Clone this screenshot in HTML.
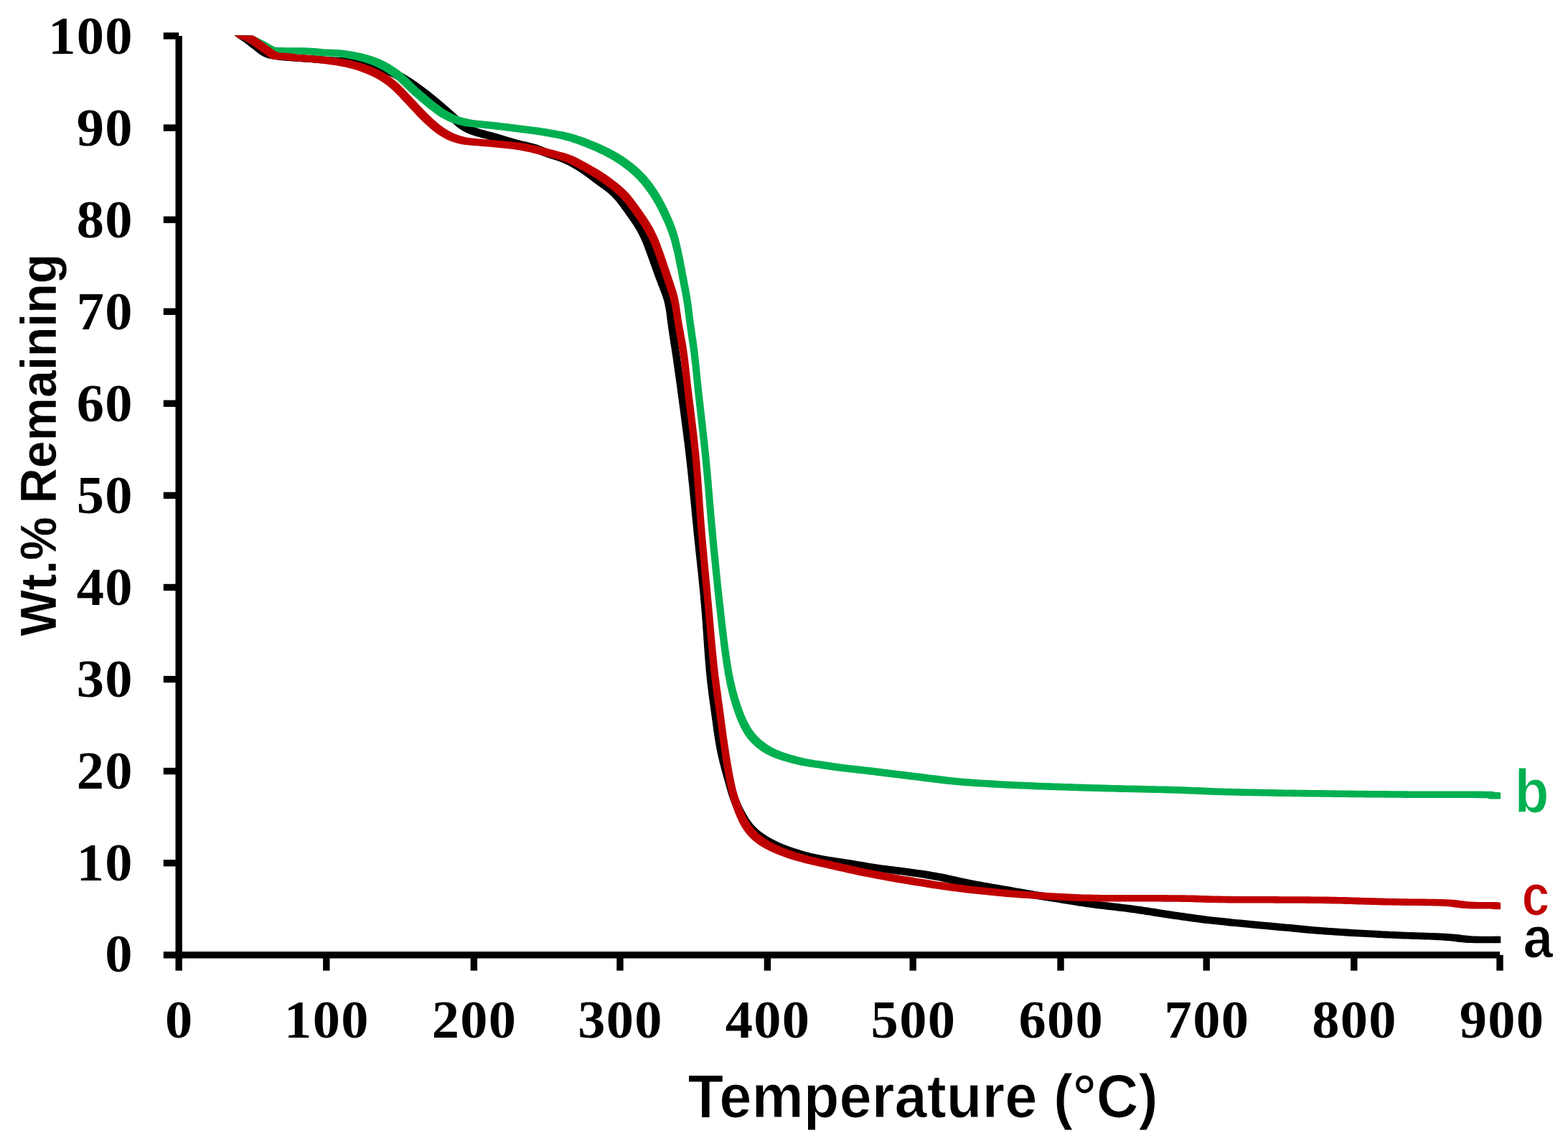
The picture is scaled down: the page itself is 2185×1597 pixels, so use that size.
<!DOCTYPE html>
<html lang="en"><head><meta charset="utf-8"><title>TGA: Wt.% Remaining vs Temperature</title>
<style>
html,body{margin:0;padding:0;background:#fff;}
body{width:2185px;height:1597px;overflow:hidden;}
svg{display:block;}
</style></head>
<body>
<svg width="2185" height="1597" viewBox="0 0 2185 1597">
<defs><clipPath id="plot"><rect x="240" y="49.6" width="1900" height="1290"/></clipPath></defs>
<rect width="2185" height="1597" fill="#fff"/>
<g clip-path="url(#plot)" stroke="none">
<g fill="#000"><path d="M327.1,49.6 336.6,42.1 340.7,44.9 344.8,47.7 349.0,50.5 352.9,53.6 356.8,56.7 360.9,59.6 364.8,62.7 368.8,65.8 372.9,68.6 377.3,71.1 381.9,72.7 386.9,73.8 391.8,74.6 396.7,75.2 401.7,75.7 406.7,76.2 411.7,76.5 416.7,76.8 421.7,77.2 426.6,77.5 431.6,77.8 436.6,78.2 441.6,78.6 446.6,79.0 451.6,79.3 456.6,79.7 461.6,80.0 466.5,80.4 471.5,80.7 476.5,80.9 481.5,81.2 486.5,81.5 491.5,81.8 496.5,82.1 501.5,82.6 506.4,83.1 511.3,83.9 516.2,85.0 521.0,86.2 525.8,87.6 530.6,89.1 535.4,90.7 540.1,92.5 544.7,94.3 549.3,96.3 553.8,98.4 558.2,100.7 562.6,103.1 566.9,105.7 571.1,108.3 575.3,111.0 579.5,113.8 583.6,116.7 587.6,119.7 591.6,122.7 595.6,125.7 599.6,128.8 603.5,131.8 607.4,135.0 611.2,138.2 615.1,141.4 618.9,144.6 622.7,147.9 626.4,151.2 630.2,154.5 633.9,157.9 637.6,161.2 641.3,164.6 645.1,167.8 649.0,170.9 653.1,173.6 657.4,176.0 661.9,178.0 666.6,179.7 671.4,181.2 676.2,182.6 681.0,183.8 685.9,185.1 690.7,186.4 695.5,187.8 700.3,189.2 705.1,190.7 709.9,192.1 714.7,193.6 719.5,194.9 724.3,196.2 729.2,197.4 734.0,198.5 738.9,199.7 743.8,200.9 748.5,202.3 753.2,203.9 757.8,205.8 762.4,207.7 767.0,209.5 771.7,211.1 776.5,212.7 781.3,214.2 786.0,215.7 790.6,217.5 795.2,219.4 799.7,221.6 804.1,223.9 808.5,226.4 812.8,229.0 817.0,231.7 821.1,234.5 825.2,237.4 829.2,240.4 833.2,243.4 837.2,246.4 841.2,249.4 845.3,252.3 849.4,255.3 853.4,258.3 857.2,261.4 860.9,264.7 864.3,268.3 867.6,272.0 870.7,275.9 873.7,279.9 876.6,284.0 879.6,288.0 882.5,292.1 885.4,296.2 888.3,300.3 891.1,304.4 893.8,308.6 896.3,312.9 898.8,317.3 901.0,321.7 903.1,326.2 905.1,330.8 907.0,335.4 908.7,340.1 910.5,344.8 912.1,349.5 913.8,354.2 915.5,358.9 917.2,363.7 918.9,368.4 920.6,373.1 922.3,377.8 924.0,382.5 925.8,387.2 927.6,391.8 929.4,396.5 931.2,401.2 932.9,405.9 934.4,410.7 935.6,415.4 936.6,420.3 937.5,425.2 938.2,430.1 938.8,435.1 939.4,440.1 940.1,445.0 940.7,450.0 941.5,455.0 942.2,459.9 943.0,464.8 943.7,469.8 944.5,474.7 945.3,479.7 946.0,484.6 946.8,489.5 947.5,494.5 948.2,499.4 948.9,504.4 949.6,509.3 950.3,514.3 951.0,519.2 951.7,524.2 952.4,529.2 953.1,534.1 953.7,539.1 954.4,544.0 955.1,549.0 955.7,553.9 956.4,558.9 957.1,563.8 957.7,568.8 958.4,573.8 959.0,578.7 959.7,583.7 960.3,588.6 961.0,593.6 961.6,598.5 962.2,603.5 962.9,608.5 963.5,613.4 964.1,618.4 964.7,623.4 965.2,628.3 965.8,633.3 966.4,638.3 966.9,643.2 967.5,648.2 968.0,653.2 968.5,658.1 969.0,663.1 969.6,668.1 970.1,673.1 970.5,678.0 971.0,683.0 971.5,688.0 972.0,693.0 972.5,697.9 973.0,702.9 973.5,707.9 973.9,712.9 974.4,717.9 974.9,722.8 975.4,727.8 975.9,732.8 976.4,737.8 976.9,742.7 977.4,747.7 978.0,752.7 978.5,757.6 979.0,762.6 979.5,767.6 980.1,772.6 980.6,777.5 981.1,782.5 981.7,787.5 982.2,792.5 982.7,797.4 983.2,802.4 983.7,807.4 984.2,812.4 984.7,817.3 985.2,822.3 985.6,827.3 986.1,832.3 986.5,837.2 986.9,842.2 987.3,847.2 987.7,852.2 988.1,857.2 988.5,862.2 988.8,867.2 989.2,872.1 989.5,877.1 989.8,882.1 990.2,887.1 990.5,892.1 990.9,897.1 991.2,902.1 991.6,907.1 992.0,912.1 992.4,917.0 992.8,922.0 993.2,927.0 993.7,932.0 994.2,936.9 994.7,941.9 995.3,946.9 995.9,951.8 996.5,956.8 997.1,961.8 997.8,966.7 998.5,971.7 999.2,976.6 999.9,981.6 1000.5,986.5 1001.2,991.5 1001.9,996.5 1002.6,1001.4 1003.3,1006.4 1004.0,1011.3 1004.7,1016.3 1005.5,1021.2 1006.2,1026.2 1007.1,1031.1 1008.0,1036.0 1009.0,1040.9 1010.0,1045.7 1011.2,1050.6 1012.3,1055.5 1013.6,1060.3 1014.9,1065.1 1016.2,1070.0 1017.6,1074.8 1018.9,1079.6 1020.3,1084.4 1021.6,1089.3 1023.0,1094.1 1024.4,1098.8 1026.0,1103.6 1027.6,1108.3 1029.4,1113.0 1031.3,1117.6 1033.3,1122.2 1035.5,1126.7 1037.7,1131.1 1040.2,1135.5 1042.8,1139.7 1045.6,1143.9 1048.6,1147.9 1051.8,1151.7 1055.2,1155.2 1059.0,1158.5 1062.9,1161.5 1067.0,1164.3 1071.3,1166.9 1075.6,1169.3 1080.0,1171.7 1084.5,1173.9 1089.1,1175.9 1093.7,1177.9 1098.3,1179.7 1103.0,1181.4 1107.8,1183.0 1112.5,1184.5 1117.3,1186.0 1122.1,1187.4 1126.9,1188.7 1131.8,1189.9 1136.6,1191.0 1141.5,1192.1 1146.4,1193.0 1151.4,1193.9 1156.3,1194.7 1161.2,1195.5 1166.2,1196.2 1171.1,1197.0 1176.1,1197.7 1181.0,1198.5 1185.9,1199.2 1190.9,1200.0 1195.8,1200.9 1200.7,1201.7 1205.7,1202.5 1210.6,1203.3 1215.5,1204.2 1220.5,1204.9 1225.4,1205.7 1230.4,1206.4 1235.3,1207.0 1240.3,1207.7 1245.3,1208.3 1250.2,1208.9 1255.2,1209.5 1260.1,1210.1 1265.1,1210.8 1270.1,1211.4 1275.0,1212.1 1280.0,1212.8 1284.9,1213.5 1289.9,1214.3 1294.8,1215.1 1299.7,1215.9 1304.6,1216.7 1309.6,1217.6 1314.5,1218.6 1319.4,1219.6 1324.3,1220.6 1329.1,1221.7 1334.0,1222.8 1338.9,1223.9 1343.8,1224.9 1348.7,1226.0 1353.6,1227.0 1358.5,1227.9 1363.4,1228.8 1368.3,1229.7 1373.2,1230.6 1378.2,1231.5 1383.1,1232.3 1388.0,1233.2 1393.0,1234.0 1397.9,1234.8 1402.8,1235.7 1407.7,1236.6 1412.7,1237.4 1417.6,1238.3 1422.5,1239.2 1427.4,1240.1 1432.4,1240.9 1437.3,1241.8 1442.2,1242.6 1447.1,1243.5 1452.1,1244.3 1457.0,1245.1 1461.9,1245.9 1466.9,1246.7 1471.8,1247.5 1476.7,1248.3 1481.7,1249.1 1486.6,1249.9 1491.6,1250.7 1496.5,1251.5 1501.4,1252.3 1506.4,1253.1 1511.3,1253.8 1516.3,1254.6 1521.2,1255.3 1526.1,1256.0 1531.1,1256.7 1536.1,1257.4 1541.0,1258.0 1546.0,1258.6 1550.9,1259.2 1555.9,1259.7 1560.9,1260.3 1565.8,1260.9 1570.8,1261.5 1575.8,1262.1 1580.7,1262.7 1585.7,1263.4 1590.6,1264.1 1595.6,1264.8 1600.5,1265.6 1605.5,1266.3 1610.4,1267.1 1615.4,1267.9 1620.3,1268.6 1625.2,1269.4 1630.2,1270.1 1635.1,1270.9 1640.1,1271.6 1645.0,1272.3 1650.0,1273.1 1654.9,1273.8 1659.9,1274.5 1664.8,1275.2 1669.8,1275.9 1674.7,1276.6 1679.7,1277.2 1684.6,1277.8 1689.6,1278.4 1694.6,1279.0 1699.5,1279.5 1704.5,1280.1 1709.5,1280.6 1714.5,1281.1 1719.4,1281.6 1724.4,1282.1 1729.4,1282.6 1734.4,1283.1 1739.3,1283.5 1744.3,1284.0 1749.3,1284.5 1754.3,1284.9 1759.3,1285.4 1764.2,1285.8 1769.2,1286.3 1774.2,1286.7 1779.2,1287.2 1784.2,1287.6 1789.1,1288.1 1794.1,1288.6 1799.1,1289.1 1804.1,1289.6 1809.0,1290.1 1814.0,1290.6 1819.0,1291.1 1824.0,1291.5 1828.9,1292.0 1833.9,1292.4 1838.9,1292.8 1843.9,1293.2 1848.9,1293.5 1853.9,1293.9 1858.9,1294.2 1863.8,1294.6 1868.8,1294.9 1873.8,1295.2 1878.8,1295.5 1883.8,1295.8 1888.8,1296.1 1893.8,1296.4 1898.8,1296.7 1903.8,1297.0 1908.8,1297.2 1913.8,1297.5 1918.8,1297.8 1923.7,1298.0 1928.7,1298.3 1933.7,1298.6 1938.7,1298.8 1943.7,1299.1 1948.7,1299.3 1953.7,1299.5 1958.8,1299.7 1963.8,1299.9 1968.8,1300.0 1973.9,1300.2 1978.9,1300.3 1983.9,1300.5 1988.9,1300.7 1994.0,1300.8 1999.0,1301.0 2004.0,1301.2 2009.0,1301.4 2014.0,1301.7 2018.9,1302.0 2023.9,1302.3 2028.8,1302.8 2033.7,1303.3 2038.6,1303.9 2043.5,1304.5 2048.3,1305.0 2053.2,1305.4 2058.1,1305.6 2063.1,1305.6 2068.0,1305.7 2073.0,1305.7 2078.0,1305.7 2083.1,1305.7 2088.2,1305.7 2091.3,1305.7 2081.8,1313.3 2078.7,1313.3 2073.6,1313.3 2068.5,1313.3 2063.5,1313.3 2058.5,1313.3 2053.6,1313.2 2048.6,1313.2 2043.7,1313.0 2038.8,1312.6 2034.0,1312.1 2029.1,1311.5 2024.2,1310.9 2019.3,1310.4 2014.4,1309.9 2009.4,1309.6 2004.5,1309.3 1999.5,1309.0 1994.5,1308.8 1989.5,1308.6 1984.5,1308.4 1979.4,1308.3 1974.4,1308.1 1969.4,1307.9 1964.4,1307.8 1959.3,1307.6 1954.3,1307.5 1949.3,1307.3 1944.2,1307.1 1939.2,1306.9 1934.2,1306.7 1929.2,1306.4 1924.2,1306.2 1919.2,1305.9 1914.2,1305.6 1909.3,1305.4 1904.3,1305.1 1899.3,1304.8 1894.3,1304.6 1889.3,1304.3 1884.3,1304.0 1879.3,1303.7 1874.3,1303.4 1869.3,1303.1 1864.3,1302.8 1859.3,1302.5 1854.3,1302.2 1849.4,1301.8 1844.4,1301.5 1839.4,1301.1 1834.4,1300.8 1829.4,1300.4 1824.4,1300.0 1819.4,1299.6 1814.5,1299.1 1809.5,1298.7 1804.5,1298.2 1799.5,1297.7 1794.6,1297.2 1789.6,1296.7 1784.6,1296.2 1779.6,1295.7 1774.7,1295.2 1769.7,1294.8 1764.7,1294.3 1759.7,1293.9 1754.7,1293.4 1749.8,1293.0 1744.8,1292.5 1739.8,1292.1 1734.8,1291.6 1729.8,1291.1 1724.9,1290.7 1719.9,1290.2 1714.9,1289.7 1709.9,1289.2 1705.0,1288.7 1700.0,1288.2 1695.0,1287.7 1690.0,1287.1 1685.1,1286.6 1680.1,1286.0 1675.1,1285.4 1670.2,1284.8 1665.2,1284.2 1660.3,1283.5 1655.3,1282.8 1650.4,1282.1 1645.4,1281.4 1640.5,1280.7 1635.5,1279.9 1630.6,1279.2 1625.6,1278.5 1620.7,1277.7 1615.7,1277.0 1610.8,1276.2 1605.9,1275.5 1600.9,1274.7 1596.0,1273.9 1591.0,1273.2 1586.1,1272.4 1581.1,1271.7 1576.2,1271.0 1571.2,1270.3 1566.3,1269.7 1561.3,1269.1 1556.3,1268.5 1551.4,1267.9 1546.4,1267.3 1541.4,1266.8 1536.5,1266.2 1531.5,1265.6 1526.6,1265.0 1521.6,1264.3 1516.6,1263.6 1511.7,1262.9 1506.8,1262.2 1501.8,1261.4 1496.9,1260.7 1491.9,1259.9 1487.0,1259.1 1482.1,1258.3 1477.1,1257.5 1472.2,1256.7 1467.2,1255.9 1462.3,1255.1 1457.4,1254.3 1452.4,1253.5 1447.5,1252.7 1442.6,1251.9 1437.6,1251.1 1432.7,1250.2 1427.8,1249.4 1422.9,1248.5 1417.9,1247.7 1413.0,1246.8 1408.1,1245.9 1403.2,1245.0 1398.2,1244.2 1393.3,1243.3 1388.4,1242.4 1383.5,1241.6 1378.5,1240.8 1373.6,1239.9 1368.7,1239.1 1363.7,1238.2 1358.8,1237.3 1353.9,1236.4 1349.0,1235.5 1344.1,1234.6 1339.2,1233.6 1334.3,1232.5 1329.4,1231.5 1324.5,1230.4 1319.6,1229.3 1314.8,1228.2 1309.9,1227.2 1305.0,1226.2 1300.1,1225.2 1295.1,1224.3 1290.2,1223.5 1285.3,1222.7 1280.4,1221.9 1275.4,1221.1 1270.5,1220.4 1265.5,1219.7 1260.6,1219.0 1255.6,1218.4 1250.6,1217.7 1245.7,1217.1 1240.7,1216.5 1235.8,1215.9 1230.8,1215.3 1225.8,1214.6 1220.9,1214.0 1215.9,1213.3 1211.0,1212.5 1206.0,1211.8 1201.1,1210.9 1196.2,1210.1 1191.2,1209.3 1186.3,1208.5 1181.4,1207.6 1176.4,1206.8 1171.5,1206.1 1166.6,1205.3 1161.6,1204.6 1156.7,1203.8 1151.7,1203.1 1146.8,1202.3 1141.9,1201.5 1136.9,1200.6 1132.0,1199.7 1127.1,1198.6 1122.3,1197.5 1117.4,1196.3 1112.6,1195.0 1107.8,1193.6 1103.0,1192.1 1098.3,1190.6 1093.5,1189.0 1088.8,1187.3 1084.2,1185.5 1079.6,1183.5 1075.0,1181.5 1070.5,1179.3 1066.1,1176.9 1061.8,1174.5 1057.5,1171.9 1053.4,1169.1 1049.5,1166.1 1045.7,1162.8 1042.3,1159.3 1039.1,1155.5 1036.1,1151.5 1033.3,1147.3 1030.7,1143.1 1028.2,1138.7 1026.0,1134.3 1023.8,1129.8 1021.8,1125.2 1019.9,1120.6 1018.1,1115.9 1016.5,1111.2 1014.9,1106.4 1013.5,1101.7 1012.1,1096.9 1010.8,1092.0 1009.4,1087.2 1008.1,1082.4 1006.7,1077.6 1005.4,1072.7 1004.1,1067.9 1002.8,1063.1 1001.7,1058.2 1000.5,1053.3 999.5,1048.5 998.5,1043.6 997.6,1038.7 996.7,1033.8 996.0,1028.8 995.2,1023.9 994.5,1018.9 993.8,1014.0 993.1,1009.0 992.4,1004.1 991.7,999.1 991.0,994.1 990.4,989.2 989.7,984.2 989.0,979.3 988.3,974.3 987.6,969.4 987.0,964.4 986.4,959.4 985.8,954.5 985.2,949.5 984.7,944.5 984.2,939.6 983.7,934.6 983.3,929.6 982.9,924.6 982.5,919.7 982.1,914.7 981.7,909.7 981.4,904.7 981.0,899.7 980.7,894.7 980.3,889.7 980.0,884.7 979.7,879.7 979.3,874.8 979.0,869.8 978.6,864.8 978.2,859.8 977.8,854.8 977.4,849.8 977.0,844.8 976.6,839.9 976.1,834.9 975.7,829.9 975.2,824.9 974.7,820.0 974.2,815.0 973.7,810.0 973.2,805.0 972.7,800.1 972.2,795.1 971.6,790.1 971.1,785.1 970.6,780.2 970.0,775.2 969.5,770.2 969.0,765.2 968.5,760.3 967.9,755.3 967.4,750.3 966.9,745.4 966.4,740.4 965.9,735.4 965.4,730.4 964.9,725.5 964.4,720.5 964.0,715.5 963.5,710.5 963.0,705.5 962.5,700.6 962.0,695.6 961.5,690.6 961.0,685.6 960.6,680.7 960.1,675.7 959.5,670.7 959.0,665.7 958.5,660.8 958.0,655.8 957.4,650.8 956.9,645.9 956.3,640.9 955.7,635.9 955.2,631.0 954.6,626.0 954.0,621.0 953.4,616.1 952.7,611.1 952.1,606.1 951.5,601.2 950.8,596.2 950.2,591.3 949.5,586.3 948.9,581.4 948.2,576.4 947.6,571.4 946.9,566.5 946.2,561.5 945.6,556.6 944.9,551.6 944.2,546.7 943.6,541.7 942.9,536.8 942.2,531.8 941.5,526.8 940.8,521.9 940.1,516.9 939.4,512.0 938.7,507.0 938.0,502.1 937.3,497.1 936.5,492.2 935.8,487.3 935.0,482.3 934.2,477.4 933.5,472.4 932.7,467.5 932.0,462.6 931.2,457.6 930.6,452.6 929.9,447.7 929.3,442.7 928.7,437.7 928.0,432.8 927.1,427.9 926.1,423.0 924.9,418.3 923.4,413.5 921.7,408.8 919.9,404.1 918.1,399.4 916.3,394.8 914.5,390.1 912.8,385.4 911.1,380.7 909.4,376.0 907.7,371.3 906.0,366.5 904.3,361.8 902.6,357.1 901.0,352.4 899.2,347.7 897.5,343.0 895.6,338.4 893.6,333.8 891.5,329.3 889.3,324.9 886.8,320.5 884.3,316.2 881.6,312.0 878.8,307.9 875.9,303.8 873.0,299.7 870.1,295.6 867.1,291.6 864.2,287.5 861.2,283.5 858.1,279.6 854.8,275.9 851.4,272.3 847.7,269.0 843.9,265.9 839.9,262.9 835.8,259.9 831.7,257.0 827.7,254.0 823.7,251.0 819.7,248.0 815.7,245.0 811.6,242.1 807.5,239.3 803.3,236.6 799.0,234.0 794.6,231.5 790.2,229.2 785.7,227.0 781.1,225.1 776.5,223.3 771.8,221.8 767.0,220.3 762.2,218.7 757.5,217.1 752.9,215.3 748.3,213.4 743.7,211.5 739.0,209.9 734.3,208.5 729.4,207.3 724.5,206.1 719.7,205.0 714.8,203.8 710.0,202.5 705.2,201.2 700.4,199.7 695.6,198.3 690.8,196.8 686.0,195.4 681.2,194.0 676.4,192.7 671.5,191.4 666.7,190.2 661.9,188.8 657.1,187.3 652.4,185.6 647.9,183.6 643.6,181.2 639.5,178.5 635.6,175.4 631.8,172.2 628.1,168.8 624.4,165.5 620.7,162.1 616.9,158.8 613.2,155.5 609.4,152.2 605.6,149.0 601.7,145.8 597.9,142.6 594.0,139.4 590.1,136.4 586.1,133.3 582.1,130.3 578.1,127.3 574.1,124.3 570.0,121.4 565.8,118.6 561.6,115.9 557.4,113.3 553.1,110.7 548.7,108.3 544.3,106.0 539.8,103.9 535.2,101.9 530.6,100.1 525.9,98.3 521.1,96.7 516.3,95.2 511.5,93.8 506.7,92.6 501.8,91.5 496.9,90.7 492.0,90.2 487.0,89.7 482.0,89.4 477.0,89.1 472.0,88.8 467.0,88.5 462.0,88.3 457.0,88.0 452.1,87.6 447.1,87.3 442.1,86.9 437.1,86.6 432.1,86.2 427.1,85.8 422.1,85.4 417.1,85.1 412.2,84.8 407.2,84.4 402.2,84.1 397.2,83.8 392.2,83.3 387.2,82.8 382.3,82.2 377.4,81.4 372.4,80.3 367.8,78.7 363.4,76.2 359.3,73.4 355.3,70.3 351.4,67.2 347.3,64.3 343.4,61.2 339.5,58.1 335.3,55.3 331.2,52.5 327.1,49.6Z"/><path d="M328.1,50.6 335.7,41.1 339.8,43.9 343.9,46.8 348.1,49.5 352.0,52.6 355.9,55.7 360.0,58.6 363.8,61.8 367.8,64.9 371.9,67.7 376.3,70.1 381.0,71.7 385.9,72.8 390.8,73.6 395.8,74.3 400.8,74.8 405.7,75.2 410.7,75.6 415.7,75.9 420.7,76.2 425.7,76.5 430.7,76.9 435.7,77.2 440.7,77.6 445.6,78.0 450.6,78.4 455.6,78.8 460.6,79.1 465.6,79.4 470.6,79.7 475.6,80.0 480.6,80.3 485.6,80.5 490.6,80.8 495.6,81.2 500.5,81.6 505.5,82.2 510.4,83.0 515.2,84.0 520.1,85.3 524.9,86.7 529.7,88.2 534.4,89.8 539.1,91.5 543.8,93.4 548.3,95.4 552.8,97.5 557.3,99.8 561.6,102.2 566.0,104.7 570.2,107.4 574.4,110.1 578.5,112.9 582.6,115.8 586.7,118.7 590.7,121.7 594.7,124.7 598.6,127.8 602.5,130.9 606.4,134.0 610.3,137.2 614.1,140.4 617.9,143.7 621.7,146.9 625.5,150.2 629.2,153.5 632.9,156.9 636.6,160.3 640.3,163.6 644.1,166.9 648.1,169.9 652.2,172.7 656.5,175.0 661.0,177.1 665.6,178.8 670.4,180.3 675.2,181.6 680.1,182.9 684.9,184.1 689.7,185.5 694.5,186.8 699.3,188.3 704.1,189.7 708.9,191.2 713.7,192.6 718.5,194.0 723.3,195.3 728.2,196.5 733.1,197.6 738.0,198.7 742.8,199.9 747.6,201.3 752.2,203.0 756.8,204.8 761.4,206.7 766.1,208.5 770.8,210.2 775.5,211.7 780.3,213.2 785.0,214.8 789.7,216.5 794.3,218.5 798.8,220.6 803.2,222.9 807.5,225.4 811.8,228.0 816.0,230.7 820.1,233.6 824.2,236.5 828.2,239.4 832.2,242.4 836.3,245.4 840.3,248.4 844.4,251.4 848.4,254.3 852.4,257.3 856.3,260.5 859.9,263.8 863.4,267.3 866.6,271.1 869.7,275.0 872.7,279.0 875.7,283.0 878.6,287.1 881.6,291.1 884.5,295.2 887.3,299.3 890.1,303.5 892.8,307.7 895.4,311.9 897.8,316.3 900.1,320.8 902.2,325.3 904.2,329.9 906.0,334.5 907.8,339.2 909.5,343.9 911.2,348.6 912.9,353.3 914.6,358.0 916.2,362.7 917.9,367.4 919.6,372.1 921.3,376.8 923.0,381.5 924.8,386.2 926.6,390.9 928.5,395.6 930.3,400.3 931.9,405.0 933.4,409.7 934.7,414.5 935.7,419.3 936.5,424.2 937.2,429.2 937.9,434.1 938.5,439.1 939.1,444.1 939.8,449.0 940.5,454.0 941.3,458.9 942.0,463.9 942.8,468.8 943.6,473.8 944.3,478.7 945.1,483.7 945.8,488.6 946.6,493.5 947.3,498.5 948.0,503.4 948.7,508.4 949.4,513.3 950.1,518.3 950.8,523.2 951.4,528.2 952.1,533.2 952.8,538.1 953.5,543.1 954.1,548.0 954.8,553.0 955.5,557.9 956.1,562.9 956.8,567.8 957.4,572.8 958.1,577.8 958.7,582.7 959.4,587.7 960.0,592.6 960.7,597.6 961.3,602.6 961.9,607.5 962.5,612.5 963.1,617.4 963.7,622.4 964.3,627.4 964.9,632.3 965.4,637.3 966.0,642.3 966.5,647.2 967.1,652.2 967.6,657.2 968.1,662.2 968.6,667.1 969.1,672.1 969.6,677.1 970.1,682.1 970.6,687.0 971.1,692.0 971.5,697.0 972.0,702.0 972.5,706.9 973.0,711.9 973.5,716.9 974.0,721.9 974.5,726.9 975.0,731.8 975.5,736.8 976.0,741.8 976.5,746.8 977.0,751.7 977.5,756.7 978.1,761.7 978.6,766.6 979.1,771.6 979.7,776.6 980.2,781.6 980.7,786.5 981.2,791.5 981.7,796.5 982.3,801.5 982.8,806.4 983.3,811.4 983.7,816.4 984.2,821.4 984.7,826.3 985.1,831.3 985.6,836.3 986.0,841.3 986.4,846.3 986.8,851.2 987.2,856.2 987.5,861.2 987.9,866.2 988.2,871.2 988.6,876.2 988.9,881.2 989.2,886.2 989.6,891.2 989.9,896.1 990.3,901.1 990.7,906.1 991.0,911.1 991.4,916.1 991.8,921.1 992.3,926.0 992.7,931.0 993.2,936.0 993.8,941.0 994.3,945.9 994.9,950.9 995.5,955.9 996.2,960.8 996.9,965.8 997.5,970.7 998.2,975.7 998.9,980.6 999.6,985.6 1000.3,990.5 1001.0,995.5 1001.6,1000.5 1002.3,1005.4 1003.0,1010.4 1003.7,1015.3 1004.5,1020.3 1005.3,1025.2 1006.1,1030.1 1007.1,1035.0 1008.0,1039.9 1009.1,1044.8 1010.2,1049.7 1011.4,1054.5 1012.6,1059.4 1013.9,1064.2 1015.3,1069.0 1016.6,1073.8 1018.0,1078.7 1019.3,1083.5 1020.7,1088.3 1022.1,1093.1 1023.5,1097.9 1025.0,1102.6 1026.7,1107.4 1028.5,1112.0 1030.3,1116.7 1032.4,1121.2 1034.5,1125.7 1036.8,1130.2 1039.2,1134.5 1041.8,1138.8 1044.6,1142.9 1047.6,1146.9 1050.8,1150.7 1054.3,1154.3 1058.0,1157.5 1062.0,1160.5 1066.1,1163.3 1070.3,1165.9 1074.7,1168.4 1079.1,1170.7 1083.6,1172.9 1088.1,1175.0 1092.7,1176.9 1097.4,1178.7 1102.1,1180.4 1106.8,1182.0 1111.6,1183.6 1116.4,1185.0 1121.2,1186.4 1126.0,1187.7 1130.8,1189.0 1135.7,1190.1 1140.6,1191.1 1145.5,1192.1 1150.4,1193.0 1155.3,1193.8 1160.3,1194.5 1165.2,1195.3 1170.2,1196.0 1175.1,1196.8 1180.1,1197.5 1185.0,1198.3 1189.9,1199.1 1194.9,1199.9 1199.8,1200.7 1204.7,1201.6 1209.7,1202.4 1214.6,1203.2 1219.5,1204.0 1224.5,1204.7 1229.4,1205.4 1234.4,1206.1 1239.3,1206.7 1244.3,1207.3 1249.3,1207.9 1254.2,1208.5 1259.2,1209.2 1264.1,1209.8 1269.1,1210.5 1274.1,1211.2 1279.0,1211.9 1284.0,1212.6 1288.9,1213.3 1293.8,1214.1 1298.8,1214.9 1303.7,1215.8 1308.6,1216.7 1313.5,1217.6 1318.4,1218.6 1323.3,1219.7 1328.2,1220.7 1333.1,1221.8 1338.0,1222.9 1342.8,1224.0 1347.7,1225.0 1352.6,1226.0 1357.5,1227.0 1362.5,1227.9 1367.4,1228.8 1372.3,1229.7 1377.2,1230.5 1382.1,1231.4 1387.1,1232.2 1392.0,1233.1 1396.9,1233.9 1401.9,1234.8 1406.8,1235.6 1411.7,1236.5 1416.6,1237.4 1421.6,1238.2 1426.5,1239.1 1431.4,1240.0 1436.3,1240.8 1441.3,1241.7 1446.2,1242.5 1451.1,1243.3 1456.1,1244.2 1461.0,1245.0 1465.9,1245.7 1470.9,1246.5 1475.8,1247.3 1480.7,1248.1 1485.7,1248.9 1490.6,1249.7 1495.5,1250.5 1500.5,1251.3 1505.4,1252.1 1510.4,1252.9 1515.3,1253.6 1520.2,1254.4 1525.2,1255.1 1530.1,1255.8 1535.1,1256.4 1540.1,1257.0 1545.0,1257.6 1550.0,1258.2 1555.0,1258.8 1559.9,1259.3 1564.9,1259.9 1569.9,1260.5 1574.8,1261.1 1579.8,1261.8 1584.7,1262.4 1589.7,1263.1 1594.6,1263.9 1599.6,1264.6 1604.5,1265.4 1609.5,1266.1 1614.4,1266.9 1619.3,1267.7 1624.3,1268.4 1629.2,1269.2 1634.2,1269.9 1639.1,1270.7 1644.1,1271.4 1649.0,1272.1 1654.0,1272.9 1658.9,1273.6 1663.9,1274.3 1668.8,1275.0 1673.8,1275.6 1678.7,1276.2 1683.7,1276.9 1688.7,1277.4 1693.6,1278.0 1698.6,1278.6 1703.6,1279.1 1708.5,1279.6 1713.5,1280.1 1718.5,1280.7 1723.5,1281.2 1728.4,1281.6 1733.4,1282.1 1738.4,1282.6 1743.4,1283.1 1748.3,1283.5 1753.3,1284.0 1758.3,1284.4 1763.3,1284.9 1768.3,1285.3 1773.2,1285.8 1778.2,1286.2 1783.2,1286.7 1788.2,1287.2 1793.2,1287.7 1798.1,1288.1 1803.1,1288.6 1808.1,1289.1 1813.1,1289.6 1818.0,1290.1 1823.0,1290.6 1828.0,1291.0 1833.0,1291.4 1838.0,1291.8 1842.9,1292.2 1847.9,1292.6 1852.9,1292.9 1857.9,1293.3 1862.9,1293.6 1867.9,1293.9 1872.9,1294.3 1877.9,1294.6 1882.9,1294.9 1887.8,1295.2 1892.8,1295.5 1897.8,1295.7 1902.8,1296.0 1907.8,1296.3 1912.8,1296.6 1917.8,1296.8 1922.8,1297.1 1927.8,1297.4 1932.8,1297.6 1937.8,1297.9 1942.8,1298.1 1947.8,1298.3 1952.8,1298.6 1957.8,1298.8 1962.8,1298.9 1967.9,1299.1 1972.9,1299.2 1977.9,1299.4 1983.0,1299.6 1988.0,1299.7 1993.0,1299.9 1998.0,1300.1 2003.0,1300.3 2008.0,1300.5 2013.0,1300.8 2018.0,1301.0 2022.9,1301.4 2027.9,1301.8 2032.8,1302.3 2037.6,1302.9 2042.5,1303.5 2047.4,1304.0 2052.3,1304.4 2057.2,1304.6 2062.1,1304.7 2067.1,1304.7 2072.1,1304.7 2077.1,1304.7 2082.2,1304.7 2087.3,1304.7 2090.4,1304.7 2082.8,1314.2 2079.7,1314.2 2074.6,1314.2 2069.5,1314.2 2064.5,1314.2 2059.5,1314.2 2054.5,1314.2 2049.6,1314.1 2044.7,1313.9 2039.8,1313.5 2034.9,1313.0 2030.0,1312.4 2025.2,1311.8 2020.3,1311.3 2015.3,1310.9 2010.4,1310.5 2005.4,1310.3 2000.4,1310.0 1995.4,1309.8 1990.4,1309.6 1985.4,1309.4 1980.4,1309.2 1975.4,1309.1 1970.3,1308.9 1965.3,1308.7 1960.3,1308.6 1955.2,1308.4 1950.2,1308.3 1945.2,1308.1 1940.2,1307.8 1935.2,1307.6 1930.2,1307.4 1925.2,1307.1 1920.2,1306.9 1915.2,1306.6 1910.2,1306.3 1905.2,1306.1 1900.2,1305.8 1895.2,1305.5 1890.2,1305.2 1885.2,1305.0 1880.2,1304.7 1875.3,1304.4 1870.3,1304.1 1865.3,1303.8 1860.3,1303.4 1855.3,1303.1 1850.3,1302.8 1845.3,1302.4 1840.3,1302.1 1835.3,1301.7 1830.4,1301.3 1825.4,1300.9 1820.4,1300.5 1815.4,1300.1 1810.4,1299.6 1805.5,1299.1 1800.5,1298.6 1795.5,1298.1 1790.5,1297.6 1785.6,1297.2 1780.6,1296.7 1775.6,1296.2 1770.6,1295.7 1765.6,1295.3 1760.7,1294.8 1755.7,1294.4 1750.7,1293.9 1745.7,1293.5 1740.7,1293.0 1735.8,1292.6 1730.8,1292.1 1725.8,1291.6 1720.8,1291.1 1715.9,1290.7 1710.9,1290.2 1705.9,1289.6 1700.9,1289.1 1696.0,1288.6 1691.0,1288.1 1686.0,1287.5 1681.1,1286.9 1676.1,1286.4 1671.1,1285.7 1666.2,1285.1 1661.2,1284.5 1656.3,1283.8 1651.3,1283.1 1646.4,1282.4 1641.4,1281.6 1636.5,1280.9 1631.5,1280.2 1626.6,1279.4 1621.6,1278.7 1616.7,1277.9 1611.7,1277.2 1606.8,1276.4 1601.9,1275.6 1596.9,1274.9 1592.0,1274.1 1587.0,1273.4 1582.1,1272.6 1577.1,1271.9 1572.2,1271.3 1567.2,1270.6 1562.3,1270.0 1557.3,1269.4 1552.3,1268.8 1547.4,1268.3 1542.4,1267.7 1537.4,1267.1 1532.5,1266.5 1527.5,1265.9 1522.5,1265.3 1517.6,1264.6 1512.6,1263.9 1507.7,1263.1 1502.8,1262.4 1497.8,1261.6 1492.9,1260.8 1487.9,1260.0 1483.0,1259.2 1478.1,1258.4 1473.1,1257.6 1468.2,1256.8 1463.3,1256.0 1458.3,1255.2 1453.4,1254.5 1448.5,1253.7 1443.5,1252.8 1438.6,1252.0 1433.7,1251.2 1428.7,1250.3 1423.8,1249.5 1418.9,1248.6 1414.0,1247.7 1409.0,1246.9 1404.1,1246.0 1399.2,1245.1 1394.3,1244.3 1389.3,1243.4 1384.4,1242.6 1379.5,1241.7 1374.5,1240.9 1369.6,1240.0 1364.7,1239.2 1359.8,1238.3 1354.9,1237.4 1349.9,1236.5 1345.0,1235.5 1340.1,1234.5 1335.2,1233.5 1330.4,1232.4 1325.5,1231.3 1320.6,1230.2 1315.7,1229.2 1310.8,1228.1 1305.9,1227.1 1301.0,1226.2 1296.1,1225.3 1291.2,1224.4 1286.2,1223.6 1281.3,1222.8 1276.4,1222.1 1271.4,1221.4 1266.5,1220.7 1261.5,1220.0 1256.5,1219.3 1251.6,1218.7 1246.6,1218.0 1241.7,1217.4 1236.7,1216.8 1231.7,1216.2 1226.8,1215.6 1221.8,1214.9 1216.9,1214.2 1211.9,1213.5 1207.0,1212.7 1202.1,1211.9 1197.1,1211.1 1192.2,1210.2 1187.3,1209.4 1182.3,1208.6 1177.4,1207.8 1172.5,1207.0 1167.5,1206.3 1162.6,1205.5 1157.6,1204.8 1152.7,1204.0 1147.7,1203.3 1142.8,1202.5 1137.9,1201.6 1133.0,1200.6 1128.1,1199.6 1123.2,1198.5 1118.4,1197.2 1113.6,1195.9 1108.8,1194.5 1104.0,1193.1 1099.2,1191.5 1094.5,1189.9 1089.8,1188.2 1085.1,1186.4 1080.5,1184.5 1076.0,1182.4 1071.5,1180.2 1067.1,1177.9 1062.7,1175.4 1058.5,1172.8 1054.4,1170.0 1050.4,1167.0 1046.7,1163.8 1043.2,1160.2 1040.0,1156.4 1037.0,1152.4 1034.2,1148.3 1031.6,1144.0 1029.2,1139.7 1026.9,1135.2 1024.8,1130.7 1022.7,1126.2 1020.9,1121.5 1019.1,1116.9 1017.4,1112.1 1015.9,1107.4 1014.5,1102.6 1013.1,1097.8 1011.7,1093.0 1010.4,1088.2 1009.0,1083.3 1007.7,1078.5 1006.3,1073.7 1005.0,1068.9 1003.8,1064.0 1002.6,1059.2 1001.5,1054.3 1000.4,1049.4 999.5,1044.5 998.5,1039.6 997.7,1034.7 996.9,1029.8 996.1,1024.8 995.4,1019.9 994.7,1014.9 994.0,1010.0 993.4,1005.0 992.7,1000.0 992.0,995.1 991.3,990.1 990.6,985.2 989.9,980.2 989.3,975.3 988.6,970.3 987.9,965.4 987.3,960.4 986.7,955.4 986.2,950.5 985.6,945.5 985.1,940.5 984.7,935.5 984.2,930.6 983.8,925.6 983.4,920.6 983.1,915.6 982.7,910.6 982.3,905.6 982.0,900.7 981.6,895.7 981.3,890.7 981.0,885.7 980.6,880.7 980.3,875.7 979.9,870.7 979.6,865.7 979.2,860.7 978.8,855.8 978.4,850.8 978.0,845.8 977.5,840.8 977.1,835.8 976.6,830.9 976.1,825.9 975.7,820.9 975.2,815.9 974.7,811.0 974.1,806.0 973.6,801.0 973.1,796.0 972.6,791.1 972.1,786.1 971.5,781.1 971.0,776.1 970.5,771.2 969.9,766.2 969.4,761.2 968.9,756.3 968.4,751.3 967.9,746.3 967.4,741.3 966.9,736.4 966.4,731.4 965.9,726.4 965.4,721.4 964.9,716.4 964.4,711.5 963.9,706.5 963.5,701.5 963.0,696.5 962.5,691.6 962.0,686.6 961.5,681.6 961.0,676.6 960.5,671.7 960.0,666.7 959.5,661.7 958.9,656.7 958.4,651.8 957.8,646.8 957.3,641.8 956.7,636.9 956.1,631.9 955.5,626.9 954.9,622.0 954.3,617.0 953.7,612.1 953.1,607.1 952.4,602.1 951.8,597.2 951.1,592.2 950.5,587.3 949.8,582.3 949.2,577.3 948.5,572.4 947.9,567.4 947.2,562.5 946.5,557.5 945.9,552.6 945.2,547.6 944.5,542.7 943.8,537.7 943.2,532.7 942.5,527.8 941.8,522.8 941.1,517.9 940.4,512.9 939.7,508.0 939.0,503.0 938.2,498.1 937.5,493.2 936.7,488.2 936.0,483.3 935.2,478.3 934.4,473.4 933.7,468.4 932.9,463.5 932.2,458.5 931.5,453.6 930.9,448.6 930.3,443.6 929.6,438.7 928.9,433.7 928.1,428.8 927.1,424.0 925.8,419.2 924.3,414.5 922.7,409.8 920.9,405.1 919.0,400.4 917.2,395.7 915.4,391.0 913.7,386.3 912.0,381.6 910.3,376.9 908.6,372.2 907.0,367.5 905.3,362.8 903.6,358.1 901.9,353.4 900.2,348.7 898.4,344.0 896.6,339.4 894.6,334.8 892.5,330.3 890.2,325.8 887.8,321.4 885.2,317.2 882.5,313.0 879.7,308.8 876.9,304.7 874.0,300.6 871.0,296.6 868.1,292.5 865.1,288.5 862.1,284.5 859.0,280.6 855.8,276.8 852.3,273.3 848.7,270.0 844.8,266.8 840.8,263.8 836.8,260.9 832.7,257.9 828.7,254.9 824.6,251.9 820.6,248.9 816.6,246.0 812.5,243.1 808.4,240.2 804.2,237.5 799.9,234.9 795.6,232.4 791.2,230.1 786.7,228.0 782.1,226.0 777.4,224.3 772.7,222.7 767.9,221.2 763.2,219.7 758.5,218.0 753.8,216.2 749.2,214.3 744.6,212.5 740.0,210.8 735.2,209.4 730.4,208.2 725.5,207.1 720.6,206.0 715.7,204.8 710.9,203.5 706.1,202.1 701.3,200.7 696.5,199.2 691.7,197.8 686.9,196.3 682.1,195.0 677.3,193.6 672.5,192.4 667.6,191.1 662.8,189.8 658.0,188.3 653.4,186.6 648.9,184.5 644.6,182.2 640.5,179.4 636.5,176.4 632.7,173.1 629.0,169.8 625.3,166.4 621.6,163.0 617.9,159.7 614.1,156.4 610.3,153.2 606.5,149.9 602.7,146.7 598.8,143.5 594.9,140.4 591.0,137.3 587.1,134.2 583.1,131.2 579.1,128.2 575.0,125.3 570.9,122.4 566.8,119.6 562.6,116.9 558.4,114.2 554.0,111.7 549.7,109.3 545.2,107.0 540.7,104.9 536.2,102.9 531.5,101.0 526.8,99.3 522.1,97.7 517.3,96.2 512.5,94.8 507.6,93.5 502.8,92.5 497.9,91.7 492.9,91.1 488.0,90.7 483.0,90.3 478.0,90.0 473.0,89.8 468.0,89.5 463.0,89.2 458.0,88.9 453.0,88.6 448.0,88.3 443.0,87.9 438.0,87.5 433.1,87.1 428.1,86.7 423.1,86.4 418.1,86.0 413.1,85.7 408.1,85.4 403.1,85.1 398.1,84.7 393.2,84.3 388.2,83.8 383.2,83.1 378.3,82.3 373.4,81.2 368.7,79.6 364.3,77.2 360.2,74.4 356.2,71.3 352.4,68.1 348.3,65.2 344.4,62.1 340.5,59.0 336.3,56.3 332.2,53.4 328.1,50.6Z"/><path d="M327.1,42.1 328.1,41.1 335.7,41.1 336.6,42.1 336.6,49.6 335.7,50.6 328.1,50.6 327.1,49.6Z"/><path d="M2081.8,1305.7 2082.8,1304.7 2090.4,1304.7 2091.3,1305.7 2091.3,1313.3 2090.4,1314.2 2082.8,1314.2 2081.8,1313.3Z"/></g>
<g fill="#00b050"><path d="M326.2,49.1 335.8,41.5 340.2,43.7 344.7,46.0 349.2,48.2 353.6,50.4 358.1,52.7 362.6,54.9 367.1,57.2 371.5,59.4 376.0,61.9 380.4,64.8 384.9,66.8 389.7,67.0 394.8,67.0 399.8,67.1 404.9,67.1 410.0,67.2 415.1,67.2 420.2,67.2 425.2,67.2 430.1,67.3 434.9,67.6 439.6,68.0 444.4,68.5 449.1,69.0 454.0,69.4 458.9,69.5 463.9,69.7 469.0,69.9 474.0,70.2 479.0,70.7 484.0,71.3 488.9,72.1 493.8,73.0 498.7,73.9 503.6,75.0 508.5,76.1 513.3,77.4 518.1,78.9 522.8,80.5 527.5,82.2 532.1,84.2 536.6,86.3 541.0,88.7 545.3,91.2 549.5,93.9 553.7,96.7 557.7,99.6 561.5,102.8 565.2,106.1 568.8,109.6 572.4,113.1 576.0,116.6 579.6,120.0 583.2,123.4 587.0,126.7 590.8,130.0 594.6,133.3 598.4,136.5 602.3,139.7 606.2,142.9 610.1,146.0 614.1,149.0 618.2,151.9 622.4,154.6 626.7,157.1 631.1,159.4 635.6,161.4 640.3,163.2 645.0,164.8 649.8,166.0 654.7,167.0 659.6,167.8 664.6,168.5 669.5,169.0 674.5,169.6 679.5,170.1 684.5,170.6 689.5,171.1 694.4,171.6 699.4,172.1 704.4,172.7 709.3,173.3 714.3,173.9 719.3,174.5 724.2,175.1 729.2,175.7 734.2,176.4 739.1,177.0 744.1,177.6 749.0,178.3 754.0,179.0 758.9,179.7 763.9,180.5 768.8,181.4 773.7,182.2 778.6,183.1 783.6,184.0 788.5,185.0 793.3,186.1 798.2,187.4 802.9,188.8 807.7,190.3 812.4,192.0 817.1,193.8 821.7,195.6 826.4,197.4 831.0,199.3 835.6,201.2 840.2,203.3 844.7,205.4 849.2,207.5 853.7,209.8 858.1,212.2 862.4,214.7 866.7,217.3 870.8,220.1 874.9,222.9 879.0,225.9 882.9,229.0 886.8,232.1 890.5,235.4 894.2,238.9 897.7,242.4 901.0,246.1 904.3,249.9 907.4,253.8 910.4,257.8 913.3,261.9 916.0,266.0 918.7,270.3 921.2,274.6 923.7,278.9 926.1,283.3 928.3,287.8 930.5,292.3 932.6,296.8 934.7,301.4 936.7,306.0 938.6,310.6 940.4,315.3 942.0,320.0 943.6,324.7 945.0,329.5 946.2,334.3 947.4,339.2 948.6,344.1 949.7,349.0 950.7,353.9 951.7,358.8 952.7,363.7 953.6,368.6 954.6,373.5 955.5,378.4 956.4,383.3 957.4,388.2 958.3,393.1 959.3,398.0 960.2,403.0 961.1,407.9 961.9,412.8 962.7,417.7 963.4,422.7 964.0,427.6 964.7,432.6 965.3,437.6 965.9,442.5 966.6,447.5 967.3,452.4 968.0,457.4 968.7,462.3 969.4,467.3 970.2,472.2 970.9,477.2 971.5,482.1 972.2,487.1 972.8,492.0 973.3,497.0 973.9,502.0 974.4,507.0 974.9,511.9 975.4,516.9 975.9,521.9 976.4,526.9 976.9,531.8 977.4,536.8 978.0,541.8 978.5,546.8 979.1,551.7 979.6,556.7 980.2,561.7 980.7,566.6 981.3,571.6 981.9,576.6 982.4,581.5 983.0,586.5 983.6,591.5 984.1,596.4 984.7,601.4 985.2,606.4 985.8,611.3 986.3,616.3 986.8,621.3 987.4,626.3 987.9,631.2 988.4,636.2 988.8,641.2 989.3,646.2 989.8,651.1 990.2,656.1 990.7,661.1 991.1,666.1 991.6,671.1 992.0,676.0 992.4,681.0 992.8,686.0 993.3,691.0 993.7,696.0 994.1,701.0 994.5,705.9 995.0,710.9 995.4,715.9 995.8,720.9 996.3,725.9 996.7,730.8 997.2,735.8 997.7,740.8 998.1,745.8 998.6,750.8 999.1,755.7 999.5,760.7 1000.0,765.7 1000.5,770.7 1001.0,775.6 1001.5,780.6 1002.0,785.6 1002.5,790.6 1003.0,795.5 1003.5,800.5 1004.0,805.5 1004.5,810.5 1005.0,815.4 1005.6,820.4 1006.1,825.4 1006.6,830.3 1007.2,835.3 1007.8,840.3 1008.3,845.3 1008.9,850.2 1009.4,855.2 1010.0,860.2 1010.6,865.2 1011.1,870.1 1011.7,875.1 1012.3,880.1 1012.9,885.0 1013.5,890.0 1014.2,895.0 1014.8,899.9 1015.5,904.9 1016.2,909.8 1016.9,914.8 1017.6,919.7 1018.4,924.7 1019.2,929.6 1020.0,934.5 1021.0,939.4 1021.9,944.3 1023.0,949.2 1024.1,954.1 1025.3,958.9 1026.5,963.8 1027.9,968.6 1029.3,973.4 1030.8,978.1 1032.4,982.9 1034.0,987.6 1035.8,992.3 1037.6,996.9 1039.6,1001.5 1041.7,1006.0 1044.1,1010.4 1046.6,1014.7 1049.4,1018.8 1052.4,1022.8 1055.7,1026.5 1059.3,1030.0 1063.0,1033.2 1067.0,1036.3 1071.1,1039.1 1075.3,1041.7 1079.7,1044.1 1084.2,1046.2 1088.8,1048.1 1093.5,1049.7 1098.3,1051.3 1103.1,1052.7 1107.9,1054.0 1112.7,1055.3 1117.6,1056.5 1122.5,1057.7 1127.4,1058.7 1132.3,1059.6 1137.2,1060.3 1142.1,1061.1 1147.1,1061.8 1152.0,1062.5 1157.0,1063.2 1161.9,1063.9 1166.9,1064.7 1171.8,1065.4 1176.8,1066.0 1181.8,1066.6 1186.7,1067.2 1191.7,1067.8 1196.7,1068.3 1201.6,1068.8 1206.6,1069.4 1211.6,1070.0 1216.5,1070.6 1221.5,1071.2 1226.5,1071.8 1231.4,1072.4 1236.4,1073.0 1241.3,1073.6 1246.3,1074.2 1251.3,1074.8 1256.2,1075.4 1261.2,1076.0 1266.2,1076.6 1271.1,1077.2 1276.1,1077.8 1281.1,1078.5 1286.0,1079.1 1291.0,1079.7 1296.0,1080.3 1300.9,1081.0 1305.9,1081.6 1310.9,1082.2 1315.8,1082.8 1320.8,1083.3 1325.8,1083.9 1330.7,1084.4 1335.7,1084.9 1340.7,1085.4 1345.7,1085.8 1350.6,1086.2 1355.6,1086.6 1360.6,1087.0 1365.6,1087.3 1370.6,1087.7 1375.5,1088.0 1380.5,1088.3 1385.5,1088.6 1390.5,1088.8 1395.5,1089.1 1400.5,1089.4 1405.5,1089.6 1410.5,1089.9 1415.5,1090.1 1420.5,1090.4 1425.5,1090.6 1430.5,1090.8 1435.5,1091.0 1440.5,1091.2 1445.5,1091.4 1450.5,1091.6 1455.5,1091.8 1460.5,1092.0 1465.5,1092.2 1470.5,1092.4 1475.5,1092.6 1480.5,1092.7 1485.4,1092.9 1490.4,1093.1 1495.4,1093.2 1500.4,1093.4 1505.4,1093.5 1510.4,1093.7 1515.4,1093.8 1520.4,1094.0 1525.4,1094.1 1530.4,1094.3 1535.4,1094.4 1540.4,1094.5 1545.4,1094.7 1550.4,1094.8 1555.4,1094.9 1560.4,1095.1 1565.4,1095.2 1570.4,1095.3 1575.4,1095.5 1580.4,1095.6 1585.4,1095.7 1590.4,1095.8 1595.4,1095.9 1600.4,1096.0 1605.4,1096.1 1610.4,1096.2 1615.4,1096.4 1620.4,1096.5 1625.4,1096.6 1630.4,1096.7 1635.4,1096.8 1640.4,1097.0 1645.4,1097.1 1650.4,1097.3 1655.4,1097.4 1660.4,1097.6 1665.4,1097.8 1670.4,1098.0 1675.4,1098.2 1680.4,1098.5 1685.4,1098.7 1690.4,1098.9 1695.4,1099.1 1700.4,1099.3 1705.3,1099.5 1710.3,1099.6 1715.3,1099.8 1720.3,1099.9 1725.3,1100.0 1730.3,1100.1 1735.3,1100.3 1740.3,1100.4 1745.3,1100.5 1750.3,1100.6 1755.3,1100.7 1760.3,1100.8 1765.3,1100.9 1770.3,1101.0 1775.3,1101.1 1780.3,1101.1 1785.3,1101.2 1790.3,1101.3 1795.3,1101.4 1800.3,1101.5 1805.3,1101.5 1810.3,1101.6 1815.3,1101.7 1820.3,1101.8 1825.3,1101.8 1830.3,1101.9 1835.3,1101.9 1840.3,1102.0 1845.3,1102.1 1850.3,1102.1 1855.3,1102.2 1860.3,1102.3 1865.3,1102.3 1870.3,1102.4 1875.3,1102.4 1880.3,1102.5 1885.3,1102.5 1890.3,1102.6 1895.3,1102.7 1900.3,1102.7 1905.3,1102.8 1910.3,1102.8 1915.3,1102.9 1920.3,1102.9 1925.3,1103.0 1930.3,1103.0 1935.3,1103.1 1940.3,1103.1 1945.3,1103.2 1950.3,1103.2 1955.3,1103.2 1960.3,1103.3 1965.3,1103.3 1970.3,1103.3 1975.3,1103.4 1980.3,1103.4 1985.3,1103.4 1990.3,1103.5 1995.3,1103.5 2000.3,1103.5 2005.3,1103.5 2010.3,1103.5 2015.4,1103.5 2020.4,1103.5 2025.4,1103.5 2030.4,1103.5 2035.5,1103.5 2040.5,1103.5 2045.5,1103.5 2050.5,1103.5 2055.5,1103.5 2060.5,1103.6 2065.5,1103.6 2070.4,1103.6 2075.4,1103.7 2080.3,1103.7 2085.1,1104.9 2090.1,1104.9 2091.1,1104.9 2081.6,1112.5 2080.6,1112.5 2075.6,1112.5 2070.8,1111.3 2065.9,1111.3 2060.9,1111.2 2056.0,1111.2 2051.0,1111.2 2046.0,1111.1 2041.0,1111.1 2036.0,1111.1 2031.0,1111.1 2026.0,1111.1 2020.9,1111.1 2015.9,1111.1 2010.9,1111.1 2005.9,1111.1 2000.8,1111.1 1995.8,1111.1 1990.8,1111.1 1985.8,1111.1 1980.8,1111.1 1975.8,1111.0 1970.8,1111.0 1965.8,1111.0 1960.8,1110.9 1955.8,1110.9 1950.8,1110.9 1945.8,1110.8 1940.8,1110.8 1935.8,1110.8 1930.8,1110.7 1925.8,1110.7 1920.8,1110.6 1915.8,1110.6 1910.8,1110.5 1905.8,1110.5 1900.8,1110.4 1895.8,1110.4 1890.8,1110.3 1885.8,1110.3 1880.8,1110.2 1875.8,1110.1 1870.8,1110.1 1865.8,1110.0 1860.8,1110.0 1855.8,1109.9 1850.8,1109.9 1845.8,1109.8 1840.8,1109.7 1835.8,1109.7 1830.8,1109.6 1825.8,1109.5 1820.8,1109.5 1815.8,1109.4 1810.8,1109.4 1805.8,1109.3 1800.8,1109.2 1795.8,1109.1 1790.8,1109.1 1785.8,1109.0 1780.8,1108.9 1775.8,1108.8 1770.8,1108.7 1765.8,1108.7 1760.8,1108.6 1755.8,1108.5 1750.8,1108.4 1745.8,1108.3 1740.8,1108.2 1735.8,1108.1 1730.8,1108.0 1725.8,1107.9 1720.8,1107.7 1715.8,1107.6 1710.8,1107.5 1705.8,1107.4 1700.8,1107.2 1695.8,1107.1 1690.9,1106.9 1685.9,1106.7 1680.9,1106.5 1675.9,1106.3 1670.9,1106.1 1665.9,1105.8 1660.9,1105.6 1655.9,1105.4 1650.9,1105.2 1645.9,1105.0 1640.9,1104.9 1635.9,1104.7 1630.9,1104.6 1625.9,1104.4 1620.9,1104.3 1615.9,1104.2 1610.9,1104.1 1605.9,1104.0 1600.9,1103.8 1595.9,1103.7 1590.9,1103.6 1585.9,1103.5 1580.9,1103.4 1575.9,1103.3 1570.9,1103.2 1565.9,1103.1 1560.9,1102.9 1555.9,1102.8 1550.9,1102.7 1545.9,1102.5 1540.9,1102.4 1535.9,1102.3 1530.9,1102.1 1525.9,1102.0 1520.9,1101.9 1515.9,1101.7 1510.9,1101.6 1505.9,1101.4 1500.9,1101.3 1495.9,1101.1 1490.9,1101.0 1485.9,1100.8 1480.9,1100.7 1475.9,1100.5 1471.0,1100.3 1466.0,1100.2 1461.0,1100.0 1456.0,1099.8 1451.0,1099.6 1446.0,1099.4 1441.0,1099.2 1436.0,1099.0 1431.0,1098.8 1426.0,1098.6 1421.0,1098.4 1416.0,1098.2 1411.0,1098.0 1406.0,1097.7 1401.0,1097.5 1396.0,1097.2 1391.0,1097.0 1386.0,1096.7 1381.0,1096.4 1376.0,1096.2 1371.0,1095.9 1366.0,1095.6 1361.1,1095.3 1356.1,1094.9 1351.1,1094.6 1346.1,1094.2 1341.1,1093.8 1336.2,1093.4 1331.2,1093.0 1326.2,1092.5 1321.2,1092.0 1316.3,1091.5 1311.3,1090.9 1306.3,1090.4 1301.4,1089.8 1296.4,1089.2 1291.4,1088.6 1286.5,1087.9 1281.5,1087.3 1276.5,1086.7 1271.6,1086.1 1266.6,1085.4 1261.6,1084.8 1256.7,1084.2 1251.7,1083.6 1246.7,1083.0 1241.8,1082.4 1236.8,1081.8 1231.8,1081.2 1226.9,1080.6 1221.9,1080.0 1217.0,1079.4 1212.0,1078.8 1207.0,1078.2 1202.1,1077.6 1197.1,1077.0 1192.1,1076.4 1187.2,1075.9 1182.2,1075.4 1177.2,1074.8 1172.3,1074.2 1167.3,1073.6 1162.3,1073.0 1157.4,1072.3 1152.4,1071.5 1147.5,1070.8 1142.5,1070.1 1137.6,1069.4 1132.6,1068.7 1127.7,1067.9 1122.8,1067.2 1117.9,1066.3 1113.0,1065.3 1108.1,1064.1 1103.2,1062.9 1098.4,1061.6 1093.6,1060.3 1088.8,1058.9 1084.0,1057.3 1079.3,1055.7 1074.7,1053.8 1070.2,1051.7 1065.8,1049.3 1061.6,1046.7 1057.5,1043.9 1053.5,1040.8 1049.8,1037.6 1046.2,1034.1 1042.9,1030.4 1039.9,1026.4 1037.1,1022.3 1034.6,1018.0 1032.2,1013.6 1030.1,1009.1 1028.1,1004.5 1026.3,999.9 1024.5,995.2 1022.9,990.5 1021.3,985.7 1019.8,981.0 1018.4,976.2 1017.0,971.4 1015.8,966.5 1014.6,961.7 1013.5,956.8 1012.4,951.9 1011.5,947.0 1010.5,942.1 1009.7,937.2 1008.9,932.3 1008.1,927.3 1007.4,922.4 1006.7,917.4 1006.0,912.5 1005.3,907.5 1004.7,902.6 1004.0,897.6 1003.4,892.6 1002.8,887.7 1002.2,882.7 1001.6,877.7 1001.1,872.8 1000.5,867.8 999.9,862.8 999.4,857.8 998.8,852.9 998.3,847.9 997.7,842.9 997.1,837.9 996.6,833.0 996.1,828.0 995.5,823.0 995.0,818.1 994.5,813.1 994.0,808.1 993.5,803.1 993.0,798.2 992.5,793.2 992.0,788.2 991.5,783.2 991.0,778.3 990.5,773.3 990.0,768.3 989.6,763.3 989.1,758.4 988.6,753.4 988.2,748.4 987.7,743.4 987.2,738.4 986.8,733.5 986.3,728.5 985.9,723.5 985.5,718.5 985.0,713.5 984.6,708.6 984.2,703.6 983.8,698.6 983.3,693.6 982.9,688.6 982.5,683.6 982.1,678.7 981.6,673.7 981.2,668.7 980.7,663.7 980.3,658.7 979.8,653.8 979.3,648.8 978.9,643.8 978.4,638.8 977.9,633.9 977.3,628.9 976.8,623.9 976.3,618.9 975.7,614.0 975.2,609.0 974.6,604.0 974.1,599.1 973.5,594.1 972.9,589.1 972.4,584.2 971.8,579.2 971.2,574.2 970.7,569.3 970.1,564.3 969.6,559.3 969.0,554.4 968.5,549.4 967.9,544.4 967.4,539.4 966.9,534.5 966.4,529.5 965.9,524.5 965.4,519.5 964.9,514.6 964.4,509.6 963.8,504.6 963.3,499.6 962.7,494.7 962.0,489.7 961.4,484.8 960.7,479.8 959.9,474.9 959.2,469.9 958.5,465.0 957.8,460.0 957.1,455.1 956.4,450.1 955.8,445.2 955.2,440.2 954.5,435.2 953.9,430.3 953.2,425.3 952.4,420.4 951.6,415.5 950.7,410.6 949.8,405.6 948.8,400.7 947.9,395.8 946.9,390.9 946.0,386.0 945.1,381.1 944.1,376.2 943.2,371.3 942.2,366.4 941.2,361.5 940.2,356.6 939.1,351.7 937.9,346.8 936.7,341.9 935.5,337.1 934.1,332.3 932.5,327.6 930.9,322.9 929.1,318.2 927.2,313.6 925.2,309.0 923.1,304.4 921.0,299.9 918.8,295.4 916.6,290.9 914.2,286.5 911.7,282.2 909.2,277.9 906.5,273.6 903.8,269.5 900.9,265.4 897.9,261.4 894.8,257.5 891.5,253.7 888.2,250.0 884.7,246.5 881.0,243.0 877.3,239.7 873.4,236.6 869.5,233.5 865.4,230.5 861.3,227.7 857.2,224.9 852.9,222.3 848.6,219.8 844.2,217.4 839.7,215.1 835.2,213.0 830.7,210.9 826.1,208.8 821.5,206.9 816.9,205.0 812.2,203.2 807.6,201.4 802.9,199.6 798.2,197.9 793.4,196.4 788.7,195.0 783.8,193.7 779.0,192.6 774.1,191.6 769.1,190.7 764.2,189.8 759.3,189.0 754.4,188.1 749.4,187.3 744.5,186.6 739.5,185.9 734.6,185.2 729.6,184.6 724.7,184.0 719.7,183.3 714.7,182.7 709.8,182.1 704.8,181.5 699.8,180.9 694.9,180.3 689.9,179.7 684.9,179.2 680.0,178.7 675.0,178.2 670.0,177.7 665.0,177.2 660.0,176.6 655.1,176.1 650.1,175.4 645.2,174.6 640.3,173.6 635.5,172.4 630.8,170.8 626.1,169.0 621.6,167.0 617.2,164.7 612.9,162.2 608.7,159.5 604.6,156.6 600.6,153.6 596.7,150.5 592.8,147.3 588.9,144.1 585.1,140.9 581.3,137.6 577.5,134.3 573.7,131.0 570.1,127.6 566.5,124.2 562.9,120.7 559.3,117.2 555.7,113.7 552.0,110.4 548.2,107.2 544.2,104.3 540.0,101.5 535.8,98.8 531.5,96.3 527.1,93.9 522.6,91.8 518.0,89.8 513.3,88.1 508.6,86.5 503.8,85.0 499.0,83.7 494.1,82.6 489.2,81.5 484.3,80.6 479.4,79.7 474.5,78.9 469.5,78.3 464.5,77.8 459.5,77.5 454.4,77.3 449.4,77.1 444.5,77.0 439.6,76.6 434.9,76.1 430.1,75.6 425.4,75.2 420.6,74.9 415.7,74.8 410.7,74.8 405.6,74.8 400.5,74.8 395.4,74.7 390.3,74.7 385.3,74.6 380.2,74.6 375.4,74.4 370.9,72.4 366.5,69.5 362.0,67.0 357.6,64.8 353.1,62.5 348.6,60.3 344.1,58.0 339.7,55.8 335.2,53.6 330.7,51.3 326.2,49.1Z"/><path d="M327.2,50.0 334.8,40.5 339.3,42.8 343.7,45.0 348.2,47.3 352.7,49.5 357.2,51.7 361.6,54.0 366.1,56.2 370.6,58.4 375.0,60.9 379.4,63.8 383.9,65.8 388.8,66.0 393.8,66.1 398.9,66.2 403.9,66.2 409.1,66.2 414.2,66.2 419.2,66.2 424.2,66.3 429.1,66.4 434.0,66.7 438.7,67.1 443.4,67.6 448.2,68.1 453.0,68.4 458.0,68.6 463.0,68.7 468.0,68.9 473.1,69.2 478.1,69.7 483.0,70.4 488.0,71.2 492.9,72.0 497.8,73.0 502.7,74.0 507.5,75.2 512.4,76.5 517.2,77.9 521.9,79.5 526.5,81.3 531.1,83.2 535.6,85.4 540.0,87.7 544.4,90.2 548.6,92.9 552.7,95.7 556.7,98.7 560.6,101.8 564.3,105.2 567.9,108.6 571.4,112.1 575.0,115.6 578.6,119.1 582.3,122.5 586.0,125.8 589.8,129.1 593.6,132.3 597.5,135.5 601.3,138.7 605.2,141.9 609.2,145.1 613.2,148.1 617.2,151.0 621.4,153.7 625.7,156.1 630.1,158.4 634.7,160.5 639.3,162.3 644.1,163.8 648.9,165.1 653.7,166.1 658.7,166.9 663.6,167.5 668.6,168.1 673.6,168.6 678.6,169.1 683.5,169.6 688.5,170.1 693.5,170.6 698.5,171.2 703.4,171.7 708.4,172.3 713.4,172.9 718.3,173.6 723.3,174.2 728.2,174.8 733.2,175.4 738.2,176.0 743.1,176.7 748.1,177.3 753.0,178.0 758.0,178.8 762.9,179.6 767.8,180.4 772.8,181.3 777.7,182.2 782.6,183.1 787.5,184.1 792.4,185.2 797.2,186.4 802.0,187.8 806.7,189.4 811.4,191.1 816.1,192.8 820.8,194.6 825.4,196.5 830.1,198.3 834.7,200.3 839.3,202.3 843.8,204.4 848.3,206.6 852.7,208.9 857.1,211.3 861.5,213.8 865.7,216.4 869.9,219.1 874.0,222.0 878.0,224.9 882.0,228.0 885.8,231.2 889.6,234.5 893.2,237.9 896.7,241.5 900.1,245.1 903.3,248.9 906.4,252.8 909.4,256.8 912.3,260.9 915.1,265.1 917.7,269.3 920.3,273.6 922.7,278.0 925.1,282.4 927.4,286.8 929.6,291.3 931.7,295.9 933.7,300.4 935.7,305.0 937.6,309.7 939.4,314.3 941.1,319.0 942.6,323.8 944.0,328.6 945.3,333.4 946.5,338.3 947.6,343.1 948.7,348.0 949.7,352.9 950.7,357.8 951.7,362.7 952.7,367.6 953.6,372.5 954.5,377.4 955.5,382.4 956.4,387.3 957.4,392.2 958.3,397.1 959.2,402.0 960.1,406.9 960.9,411.9 961.7,416.8 962.4,421.7 963.1,426.7 963.7,431.7 964.3,436.6 965.0,441.6 965.6,446.5 966.3,451.5 967.0,456.4 967.8,461.4 968.5,466.3 969.2,471.3 969.9,476.2 970.6,481.2 971.2,486.1 971.8,491.1 972.4,496.1 972.9,501.0 973.4,506.0 974.0,511.0 974.5,516.0 975.0,520.9 975.5,525.9 976.0,530.9 976.5,535.9 977.0,540.8 977.6,545.8 978.1,550.8 978.7,555.7 979.2,560.7 979.8,565.7 980.3,570.6 980.9,575.6 981.5,580.6 982.1,585.5 982.6,590.5 983.2,595.5 983.7,600.5 984.3,605.4 984.8,610.4 985.4,615.4 985.9,620.3 986.4,625.3 986.9,630.3 987.4,635.3 987.9,640.2 988.4,645.2 988.8,650.2 989.3,655.2 989.7,660.1 990.2,665.1 990.6,670.1 991.0,675.1 991.5,680.1 991.9,685.1 992.3,690.0 992.7,695.0 993.2,700.0 993.6,705.0 994.0,710.0 994.4,714.9 994.9,719.9 995.3,724.9 995.8,729.9 996.2,734.9 996.7,739.8 997.2,744.8 997.6,749.8 998.1,754.8 998.6,759.8 999.1,764.7 999.6,769.7 1000.0,774.7 1000.5,779.7 1001.0,784.6 1001.5,789.6 1002.0,794.6 1002.5,799.6 1003.0,804.5 1003.6,809.5 1004.1,814.5 1004.6,819.5 1005.1,824.4 1005.7,829.4 1006.2,834.4 1006.8,839.3 1007.4,844.3 1007.9,849.3 1008.5,854.3 1009.0,859.2 1009.6,864.2 1010.2,869.2 1010.8,874.1 1011.4,879.1 1012.0,884.1 1012.6,889.1 1013.2,894.0 1013.9,899.0 1014.5,903.9 1015.2,908.9 1015.9,913.8 1016.7,918.8 1017.4,923.7 1018.2,928.6 1019.1,933.5 1020.0,938.5 1021.0,943.4 1022.0,948.2 1023.1,953.1 1024.3,958.0 1025.6,962.8 1026.9,967.6 1028.3,972.4 1029.8,977.2 1031.4,981.9 1033.1,986.7 1034.8,991.3 1036.7,996.0 1038.7,1000.6 1040.8,1005.1 1043.1,1009.5 1045.7,1013.8 1048.4,1017.9 1051.5,1021.8 1054.8,1025.5 1058.3,1029.0 1062.1,1032.3 1066.0,1035.3 1070.1,1038.2 1074.4,1040.8 1078.8,1043.1 1083.3,1045.2 1087.9,1047.1 1092.6,1048.8 1097.3,1050.3 1102.1,1051.7 1107.0,1053.1 1111.8,1054.4 1116.6,1055.6 1121.5,1056.7 1126.4,1057.7 1131.3,1058.6 1136.2,1059.4 1141.2,1060.1 1146.1,1060.8 1151.1,1061.5 1156.0,1062.3 1161.0,1063.0 1165.9,1063.7 1170.9,1064.4 1175.8,1065.1 1180.8,1065.7 1185.8,1066.3 1190.7,1066.8 1195.7,1067.3 1200.7,1067.9 1205.6,1068.5 1210.6,1069.0 1215.6,1069.6 1220.5,1070.2 1225.5,1070.8 1230.5,1071.4 1235.4,1072.0 1240.4,1072.7 1245.4,1073.3 1250.3,1073.9 1255.3,1074.4 1260.3,1075.0 1265.2,1075.7 1270.2,1076.3 1275.1,1076.9 1280.1,1077.5 1285.1,1078.1 1290.0,1078.8 1295.0,1079.4 1300.0,1080.0 1304.9,1080.6 1309.9,1081.2 1314.9,1081.8 1319.8,1082.4 1324.8,1082.9 1329.8,1083.4 1334.8,1084.0 1339.7,1084.4 1344.7,1084.9 1349.7,1085.3 1354.7,1085.7 1359.6,1086.0 1364.6,1086.4 1369.6,1086.7 1374.6,1087.0 1379.6,1087.3 1384.6,1087.6 1389.6,1087.9 1394.6,1088.2 1399.6,1088.4 1404.6,1088.7 1409.5,1088.9 1414.5,1089.2 1419.5,1089.4 1424.5,1089.6 1429.5,1089.9 1434.5,1090.1 1439.5,1090.3 1444.5,1090.5 1449.5,1090.7 1454.5,1090.9 1459.5,1091.1 1464.5,1091.3 1469.5,1091.4 1474.5,1091.6 1479.5,1091.8 1484.5,1092.0 1489.5,1092.1 1494.5,1092.3 1499.5,1092.4 1504.5,1092.6 1509.5,1092.7 1514.5,1092.9 1519.5,1093.0 1524.5,1093.2 1529.5,1093.3 1534.5,1093.4 1539.5,1093.6 1544.5,1093.7 1549.5,1093.9 1554.5,1094.0 1559.5,1094.1 1564.5,1094.3 1569.5,1094.4 1574.5,1094.5 1579.5,1094.6 1584.5,1094.7 1589.5,1094.8 1594.5,1095.0 1599.5,1095.1 1604.5,1095.2 1609.5,1095.3 1614.5,1095.4 1619.5,1095.5 1624.5,1095.6 1629.5,1095.8 1634.5,1095.9 1639.4,1096.0 1644.4,1096.2 1649.4,1096.3 1654.4,1096.5 1659.4,1096.7 1664.4,1096.9 1669.4,1097.1 1674.4,1097.3 1679.4,1097.5 1684.4,1097.8 1689.4,1098.0 1694.4,1098.2 1699.4,1098.4 1704.4,1098.5 1709.4,1098.7 1714.4,1098.8 1719.4,1098.9 1724.4,1099.1 1729.4,1099.2 1734.4,1099.3 1739.4,1099.4 1744.4,1099.5 1749.4,1099.6 1754.4,1099.7 1759.4,1099.8 1764.4,1099.9 1769.4,1100.0 1774.4,1100.1 1779.4,1100.2 1784.4,1100.3 1789.4,1100.4 1794.4,1100.4 1799.4,1100.5 1804.4,1100.6 1809.4,1100.7 1814.4,1100.7 1819.4,1100.8 1824.4,1100.9 1829.4,1100.9 1834.4,1101.0 1839.4,1101.1 1844.4,1101.1 1849.4,1101.2 1854.4,1101.2 1859.4,1101.3 1864.4,1101.4 1869.4,1101.4 1874.4,1101.5 1879.4,1101.5 1884.4,1101.6 1889.4,1101.7 1894.4,1101.7 1899.4,1101.8 1904.4,1101.8 1909.4,1101.9 1914.4,1101.9 1919.4,1102.0 1924.4,1102.0 1929.4,1102.1 1934.4,1102.1 1939.4,1102.2 1944.4,1102.2 1949.4,1102.3 1954.4,1102.3 1959.4,1102.3 1964.4,1102.4 1969.4,1102.4 1974.4,1102.4 1979.4,1102.5 1984.4,1102.5 1989.4,1102.5 1994.4,1102.5 1999.4,1102.5 2004.4,1102.5 2009.4,1102.6 2014.4,1102.6 2019.4,1102.6 2024.5,1102.6 2029.5,1102.6 2034.5,1102.6 2039.5,1102.6 2044.6,1102.6 2049.6,1102.6 2054.6,1102.6 2059.6,1102.6 2064.5,1102.6 2069.5,1102.7 2074.4,1102.7 2079.3,1102.7 2084.2,1104.0 2089.2,1104.0 2090.2,1104.0 2082.6,1113.5 2081.6,1113.5 2076.6,1113.5 2071.7,1112.2 2066.8,1112.2 2061.9,1112.2 2056.9,1112.1 2052.0,1112.1 2047.0,1112.1 2042.0,1112.1 2037.0,1112.1 2031.9,1112.1 2026.9,1112.1 2021.9,1112.1 2016.9,1112.1 2011.8,1112.1 2006.8,1112.1 2001.8,1112.1 1996.8,1112.0 1991.8,1112.0 1986.8,1112.0 1981.8,1112.0 1976.8,1112.0 1971.8,1112.0 1966.8,1111.9 1961.8,1111.9 1956.8,1111.9 1951.8,1111.8 1946.8,1111.8 1941.8,1111.8 1936.8,1111.7 1931.8,1111.7 1926.8,1111.6 1921.8,1111.6 1916.8,1111.5 1911.8,1111.5 1906.8,1111.4 1901.8,1111.4 1896.8,1111.3 1891.8,1111.3 1886.8,1111.2 1881.8,1111.2 1876.8,1111.1 1871.8,1111.0 1866.8,1111.0 1861.8,1110.9 1856.8,1110.9 1851.8,1110.8 1846.8,1110.7 1841.8,1110.7 1836.8,1110.6 1831.8,1110.6 1826.8,1110.5 1821.8,1110.4 1816.8,1110.4 1811.8,1110.3 1806.8,1110.2 1801.8,1110.2 1796.8,1110.1 1791.8,1110.0 1786.8,1109.9 1781.8,1109.9 1776.8,1109.8 1771.8,1109.7 1766.8,1109.6 1761.8,1109.5 1756.8,1109.4 1751.8,1109.3 1746.8,1109.2 1741.8,1109.1 1736.8,1109.0 1731.8,1108.9 1726.8,1108.8 1721.8,1108.7 1716.8,1108.6 1711.8,1108.4 1706.8,1108.3 1701.8,1108.2 1696.8,1108.0 1691.8,1107.9 1686.8,1107.7 1681.8,1107.5 1676.8,1107.3 1671.8,1107.0 1666.8,1106.8 1661.8,1106.6 1656.8,1106.4 1651.8,1106.2 1646.8,1106.0 1641.8,1105.8 1636.8,1105.7 1631.8,1105.5 1626.9,1105.4 1621.9,1105.3 1616.9,1105.1 1611.9,1105.0 1606.9,1104.9 1601.9,1104.8 1596.9,1104.7 1591.9,1104.6 1586.9,1104.5 1581.9,1104.3 1576.9,1104.2 1571.9,1104.1 1566.9,1104.0 1561.9,1103.9 1556.9,1103.8 1551.9,1103.6 1546.9,1103.5 1541.9,1103.4 1536.9,1103.2 1531.9,1103.1 1526.9,1102.9 1521.9,1102.8 1516.9,1102.7 1511.9,1102.5 1506.9,1102.4 1501.9,1102.2 1496.9,1102.1 1491.9,1101.9 1486.9,1101.8 1481.9,1101.6 1476.9,1101.5 1471.9,1101.3 1466.9,1101.1 1461.9,1100.9 1456.9,1100.8 1451.9,1100.6 1446.9,1100.4 1441.9,1100.2 1436.9,1100.0 1431.9,1099.8 1426.9,1099.6 1421.9,1099.4 1416.9,1099.1 1411.9,1098.9 1406.9,1098.7 1401.9,1098.4 1397.0,1098.2 1392.0,1097.9 1387.0,1097.7 1382.0,1097.4 1377.0,1097.1 1372.0,1096.8 1367.0,1096.5 1362.0,1096.2 1357.0,1095.9 1352.0,1095.5 1347.1,1095.2 1342.1,1094.8 1337.1,1094.4 1332.1,1093.9 1327.2,1093.5 1322.2,1092.9 1317.2,1092.4 1312.2,1091.9 1307.3,1091.3 1302.3,1090.7 1297.3,1090.1 1292.4,1089.5 1287.4,1088.9 1282.4,1088.3 1277.5,1087.6 1272.5,1087.0 1267.5,1086.4 1262.6,1085.8 1257.6,1085.2 1252.7,1084.5 1247.7,1083.9 1242.7,1083.4 1237.8,1082.8 1232.8,1082.2 1227.8,1081.5 1222.9,1080.9 1217.9,1080.3 1212.9,1079.7 1208.0,1079.1 1203.0,1078.5 1198.0,1078.0 1193.1,1077.4 1188.1,1076.8 1183.1,1076.3 1178.2,1075.8 1173.2,1075.2 1168.2,1074.6 1163.3,1073.9 1158.3,1073.2 1153.4,1072.5 1148.4,1071.8 1143.5,1071.0 1138.5,1070.3 1133.6,1069.6 1128.6,1068.9 1123.7,1068.1 1118.8,1067.2 1113.9,1066.2 1109.0,1065.1 1104.2,1063.9 1099.4,1062.6 1094.5,1061.2 1089.7,1059.8 1085.0,1058.3 1080.3,1056.6 1075.7,1054.7 1071.2,1052.6 1066.8,1050.3 1062.5,1047.7 1058.4,1044.8 1054.5,1041.8 1050.7,1038.5 1047.2,1035.0 1043.9,1031.3 1040.8,1027.4 1038.1,1023.3 1035.5,1019.0 1033.2,1014.6 1031.1,1010.1 1029.1,1005.5 1027.2,1000.8 1025.5,996.2 1023.8,991.4 1022.2,986.7 1020.7,981.9 1019.3,977.1 1018.0,972.3 1016.7,967.5 1015.5,962.6 1014.4,957.7 1013.4,952.9 1012.4,948.0 1011.5,943.0 1010.6,938.1 1009.8,933.2 1009.1,928.3 1008.3,923.3 1007.6,918.4 1006.9,913.4 1006.3,908.5 1005.6,903.5 1005.0,898.6 1004.4,893.6 1003.8,888.6 1003.2,883.6 1002.6,878.7 1002.0,873.7 1001.4,868.7 1000.9,863.8 1000.3,858.8 999.8,853.8 999.2,848.8 998.6,843.9 998.1,838.9 997.5,833.9 997.0,829.0 996.5,824.0 996.0,819.0 995.4,814.0 994.9,809.1 994.4,804.1 993.9,799.1 993.4,794.1 992.9,789.2 992.4,784.2 992.0,779.2 991.5,774.2 991.0,769.3 990.5,764.3 990.0,759.3 989.6,754.3 989.1,749.3 988.6,744.4 988.2,739.4 987.7,734.4 987.3,729.4 986.8,724.4 986.4,719.5 986.0,714.5 985.6,709.5 985.1,704.5 984.7,699.5 984.3,694.6 983.9,689.6 983.4,684.6 983.0,679.6 982.6,674.6 982.1,669.6 981.7,664.7 981.2,659.7 980.8,654.7 980.3,649.7 979.8,644.8 979.3,639.8 978.8,634.8 978.3,629.8 977.8,624.9 977.2,619.9 976.7,614.9 976.1,610.0 975.6,605.0 975.0,600.0 974.5,595.0 973.9,590.1 973.3,585.1 972.7,580.1 972.2,575.2 971.6,570.2 971.1,565.2 970.5,560.3 970.0,555.3 969.4,550.3 968.9,545.4 968.4,540.4 967.9,535.4 967.4,530.4 966.9,525.5 966.4,520.5 965.8,515.5 965.3,510.5 964.8,505.6 964.2,500.6 963.6,495.6 963.0,490.7 962.3,485.7 961.6,480.8 960.9,475.8 960.2,470.9 959.4,465.9 958.7,461.0 958.0,456.0 957.4,451.1 956.7,446.1 956.1,441.2 955.5,436.2 954.8,431.2 954.1,426.3 953.3,421.4 952.5,416.4 951.6,411.5 950.7,406.6 949.8,401.7 948.8,396.8 947.9,391.9 946.9,386.9 946.0,382.0 945.1,377.1 944.1,372.2 943.1,367.3 942.1,362.4 941.1,357.5 940.0,352.6 938.9,347.8 937.7,342.9 936.4,338.1 935.0,333.3 933.5,328.5 931.8,323.8 930.0,319.2 928.1,314.5 926.1,309.9 924.1,305.4 922.0,300.8 919.8,296.3 917.5,291.9 915.1,287.5 912.7,283.1 910.1,278.8 907.5,274.6 904.7,270.4 901.8,266.3 898.8,262.3 895.7,258.4 892.5,254.6 889.1,251.0 885.6,247.4 882.0,244.0 878.2,240.7 874.4,237.5 870.4,234.4 866.4,231.5 862.3,228.6 858.1,225.9 853.9,223.3 849.5,220.8 845.1,218.4 840.7,216.1 836.2,213.9 831.7,211.8 827.1,209.8 822.5,207.8 817.8,206.0 813.2,204.1 808.5,202.3 803.8,200.6 799.1,198.9 794.4,197.3 789.6,195.9 784.8,194.7 779.9,193.6 775.0,192.6 770.1,191.7 765.2,190.8 760.2,189.9 755.3,189.1 750.4,188.3 745.4,187.5 740.5,186.8 735.5,186.2 730.6,185.5 725.6,184.9 720.6,184.3 715.7,183.7 710.7,183.1 705.8,182.4 700.8,181.8 695.8,181.2 690.9,180.7 685.9,180.1 680.9,179.6 675.9,179.1 671.0,178.6 666.0,178.1 661.0,177.6 656.0,177.0 651.1,176.4 646.1,175.6 641.3,174.6 636.5,173.3 631.7,171.8 627.1,170.0 622.5,167.9 618.1,165.6 613.8,163.2 609.6,160.5 605.6,157.6 601.6,154.6 597.6,151.4 593.7,148.2 589.9,145.0 586.0,141.8 582.2,138.6 578.4,135.3 574.7,132.0 571.0,128.6 567.4,125.1 563.8,121.6 560.3,118.1 556.7,114.7 553.0,111.3 549.1,108.2 545.1,105.2 541.0,102.4 536.8,99.7 532.4,97.2 528.0,94.9 523.5,92.7 518.9,90.8 514.3,89.0 509.6,87.4 504.8,86.0 499.9,84.7 495.1,83.5 490.2,82.5 485.3,81.5 480.4,80.7 475.4,79.9 470.5,79.2 465.5,78.7 460.4,78.4 455.4,78.2 450.4,78.1 445.4,77.9 440.6,77.6 435.8,77.1 431.1,76.6 426.4,76.2 421.5,75.9 416.6,75.8 411.6,75.7 406.6,75.7 401.5,75.7 396.3,75.7 391.3,75.7 386.2,75.6 381.2,75.5 376.3,75.3 371.8,73.3 367.4,70.4 363.0,67.9 358.5,65.7 354.0,63.5 349.6,61.2 345.1,59.0 340.6,56.8 336.1,54.5 331.7,52.3 327.2,50.0Z"/><path d="M326.2,41.5 327.2,40.5 334.8,40.5 335.8,41.5 335.8,49.1 334.8,50.0 327.2,50.0 326.2,49.1Z"/><path d="M2081.6,1104.9 2082.6,1104.0 2090.2,1104.0 2091.1,1104.9 2091.1,1112.5 2090.2,1113.5 2082.6,1113.5 2081.6,1112.5Z"/></g>
<g fill="#c00000"><path d="M326.8,49.3 336.2,41.7 340.4,44.5 345.0,46.3 349.7,48.1 354.1,50.4 358.3,53.2 362.4,56.1 366.4,59.1 370.5,62.0 374.6,64.9 378.7,67.7 382.7,70.8 386.8,73.4 391.7,74.4 396.6,74.7 401.6,75.0 406.5,75.4 411.3,76.1 416.2,76.6 421.1,77.1 426.0,77.4 431.0,77.7 436.0,78.0 441.0,78.4 446.0,78.9 451.0,79.4 455.9,80.0 460.9,80.6 465.9,81.2 470.8,81.8 475.8,82.6 480.7,83.4 485.6,84.3 490.5,85.3 495.4,86.4 500.2,87.7 505.0,89.1 509.8,90.6 514.5,92.3 519.1,94.2 523.7,96.2 528.2,98.3 532.6,100.6 537.0,103.1 541.2,105.7 545.3,108.6 549.3,111.5 553.1,114.7 556.8,118.0 560.4,121.5 563.9,125.1 567.4,128.7 570.8,132.3 574.3,136.0 577.7,139.7 581.1,143.3 584.5,147.0 588.0,150.6 591.4,154.3 594.9,157.8 598.5,161.3 602.1,164.8 605.9,168.2 609.6,171.5 613.5,174.7 617.5,177.7 621.6,180.5 625.9,183.0 630.3,185.3 634.8,187.4 639.4,189.2 644.2,190.7 649.0,191.9 653.9,192.8 658.8,193.5 663.8,194.0 668.8,194.4 673.8,194.8 678.8,195.2 683.8,195.6 688.7,196.1 693.7,196.5 698.7,197.0 703.7,197.4 708.7,197.9 713.6,198.4 718.6,198.9 723.6,199.5 728.5,200.3 733.4,201.1 738.4,202.0 743.3,203.0 748.1,204.0 753.0,205.2 757.9,206.3 762.7,207.6 767.6,208.8 772.4,210.1 777.2,211.4 782.1,212.7 786.9,214.1 791.7,215.5 796.4,217.2 801.0,219.0 805.4,221.2 809.9,223.5 814.3,225.9 818.6,228.3 823.0,230.7 827.4,233.2 831.7,235.7 836.0,238.2 840.2,240.9 844.4,243.6 848.5,246.5 852.5,249.5 856.5,252.5 860.4,255.6 864.3,258.7 868.1,262.0 871.8,265.3 875.2,268.8 878.5,272.6 881.7,276.4 884.7,280.4 887.7,284.5 890.6,288.5 893.6,292.6 896.5,296.7 899.3,300.8 902.1,305.0 904.8,309.2 907.4,313.4 909.9,317.8 912.2,322.2 914.4,326.7 916.5,331.2 918.4,335.8 920.2,340.5 921.9,345.2 923.6,349.9 925.3,354.6 926.9,359.3 928.5,364.1 930.1,368.8 931.7,373.5 933.3,378.3 934.8,383.0 936.5,387.8 938.1,392.5 939.7,397.3 941.2,402.0 942.7,406.8 944.0,411.6 945.2,416.4 946.1,421.3 947.0,426.2 947.7,431.2 948.4,436.1 949.1,441.1 949.9,446.0 950.7,451.0 951.6,455.9 952.5,460.8 953.4,465.7 954.3,470.7 955.2,475.6 956.1,480.5 956.9,485.4 957.6,490.4 958.3,495.3 958.9,500.3 959.5,505.2 960.1,510.2 960.6,515.2 961.2,520.1 961.7,525.1 962.3,530.1 962.8,535.1 963.4,540.0 964.0,545.0 964.6,550.0 965.2,554.9 965.8,559.9 966.5,564.8 967.1,569.8 967.7,574.8 968.3,579.7 968.9,584.7 969.5,589.7 970.1,594.6 970.7,599.6 971.3,604.6 971.9,609.5 972.4,614.5 973.0,619.5 973.5,624.4 974.0,629.4 974.5,634.4 974.9,639.4 975.4,644.3 975.8,649.3 976.2,654.3 976.6,659.3 977.0,664.3 977.4,669.3 977.7,674.2 978.1,679.2 978.4,684.2 978.8,689.2 979.1,694.2 979.5,699.2 979.8,704.2 980.2,709.2 980.6,714.1 980.9,719.1 981.3,724.1 981.7,729.1 982.1,734.1 982.5,739.1 982.9,744.1 983.3,749.0 983.8,754.0 984.2,759.0 984.7,764.0 985.1,769.0 985.6,773.9 986.0,778.9 986.5,783.9 986.9,788.9 987.4,793.9 987.9,798.8 988.3,803.8 988.8,808.8 989.3,813.8 989.8,818.7 990.2,823.7 990.7,828.7 991.1,833.7 991.6,838.7 992.1,843.6 992.5,848.6 992.9,853.6 993.4,858.6 993.8,863.6 994.3,868.5 994.7,873.5 995.1,878.5 995.6,883.5 996.0,888.5 996.5,893.5 996.9,898.4 997.4,903.4 997.9,908.4 998.4,913.4 998.9,918.3 999.4,923.3 999.9,928.3 1000.5,933.2 1001.0,938.2 1001.6,943.2 1002.3,948.1 1002.9,953.1 1003.6,958.0 1004.3,963.0 1005.0,967.9 1005.6,972.9 1006.3,977.9 1007.0,982.8 1007.7,987.8 1008.4,992.7 1009.0,997.7 1009.7,1002.6 1010.3,1007.6 1011.0,1012.6 1011.6,1017.5 1012.3,1022.5 1013.0,1027.4 1013.7,1032.4 1014.4,1037.3 1015.2,1042.3 1015.9,1047.2 1016.7,1052.1 1017.5,1057.1 1018.3,1062.0 1019.2,1066.9 1020.0,1071.9 1020.9,1076.8 1021.8,1081.7 1022.8,1086.6 1023.8,1091.5 1024.9,1096.4 1026.1,1101.2 1027.4,1106.1 1028.8,1110.8 1030.4,1115.6 1032.0,1120.3 1033.8,1125.0 1035.7,1129.6 1037.7,1134.2 1039.8,1138.7 1042.2,1143.1 1044.8,1147.3 1047.7,1151.4 1050.8,1155.3 1054.1,1158.9 1057.7,1162.3 1061.6,1165.5 1065.6,1168.5 1069.8,1171.2 1074.1,1173.7 1078.5,1176.0 1083.0,1178.2 1087.5,1180.2 1092.2,1182.2 1096.8,1184.0 1101.5,1185.7 1106.2,1187.3 1111.0,1188.9 1115.8,1190.3 1120.6,1191.7 1125.4,1193.1 1130.2,1194.3 1135.1,1195.5 1139.9,1196.7 1144.8,1197.7 1149.7,1198.8 1154.6,1199.9 1159.5,1201.0 1164.3,1202.1 1169.2,1203.2 1174.1,1204.4 1178.9,1205.5 1183.8,1206.6 1188.7,1207.7 1193.6,1208.7 1198.5,1209.8 1203.4,1210.8 1208.3,1211.8 1213.2,1212.8 1218.1,1213.8 1223.0,1214.8 1227.9,1215.7 1232.8,1216.7 1237.7,1217.6 1242.6,1218.5 1247.5,1219.4 1252.5,1220.3 1257.4,1221.1 1262.3,1222.0 1267.3,1222.8 1272.2,1223.6 1277.1,1224.4 1282.1,1225.2 1287.0,1226.0 1291.9,1226.8 1296.9,1227.6 1301.8,1228.4 1306.8,1229.1 1311.7,1229.9 1316.6,1230.6 1321.6,1231.3 1326.5,1232.0 1331.5,1232.7 1336.5,1233.4 1341.4,1234.0 1346.4,1234.7 1351.3,1235.3 1356.3,1235.9 1361.3,1236.4 1366.2,1237.0 1371.2,1237.5 1376.2,1238.1 1381.1,1238.6 1386.1,1239.1 1391.1,1239.6 1396.1,1240.0 1401.1,1240.5 1406.0,1240.9 1411.0,1241.3 1416.0,1241.7 1421.0,1242.1 1426.0,1242.5 1431.0,1242.9 1435.9,1243.2 1440.9,1243.6 1445.9,1243.9 1450.9,1244.3 1455.9,1244.6 1460.9,1244.9 1465.9,1245.2 1470.9,1245.5 1475.9,1245.8 1480.9,1246.0 1485.9,1246.3 1490.8,1246.5 1495.8,1246.8 1500.8,1247.0 1505.8,1247.2 1510.8,1247.3 1515.8,1247.5 1520.8,1247.6 1525.8,1247.7 1530.8,1247.8 1535.8,1247.8 1540.8,1247.9 1545.8,1247.9 1550.8,1247.9 1555.8,1247.9 1560.8,1247.9 1565.8,1248.0 1570.8,1248.0 1575.8,1248.0 1580.8,1248.0 1585.8,1248.0 1590.8,1248.0 1595.8,1248.0 1600.8,1248.0 1605.8,1248.0 1610.8,1248.0 1615.8,1248.1 1620.8,1248.1 1625.8,1248.1 1630.8,1248.1 1635.8,1248.1 1640.8,1248.1 1645.8,1248.2 1650.8,1248.2 1655.8,1248.3 1660.8,1248.4 1665.8,1248.5 1670.8,1248.7 1675.8,1248.8 1680.8,1249.0 1685.8,1249.2 1690.8,1249.3 1695.8,1249.5 1700.8,1249.6 1705.8,1249.7 1710.8,1249.7 1715.8,1249.8 1720.8,1249.8 1725.8,1249.9 1730.8,1249.9 1735.8,1249.9 1740.8,1249.9 1745.8,1250.0 1750.8,1250.0 1755.8,1250.0 1760.8,1250.0 1765.8,1250.0 1770.8,1250.1 1775.8,1250.1 1780.8,1250.1 1785.8,1250.1 1790.8,1250.1 1795.8,1250.1 1800.8,1250.2 1805.8,1250.2 1810.8,1250.2 1815.8,1250.2 1820.8,1250.3 1825.8,1250.3 1830.8,1250.3 1835.8,1250.4 1840.8,1250.4 1845.8,1250.5 1850.8,1250.5 1855.8,1250.6 1860.8,1250.7 1865.8,1250.8 1870.8,1251.0 1875.8,1251.1 1880.8,1251.2 1885.8,1251.4 1890.8,1251.5 1895.8,1251.7 1900.8,1251.8 1905.8,1252.0 1910.8,1252.1 1915.8,1252.3 1920.8,1252.4 1925.8,1252.6 1930.8,1252.7 1935.8,1252.8 1940.8,1253.0 1945.8,1253.1 1950.8,1253.1 1955.9,1253.2 1960.9,1253.3 1966.0,1253.4 1971.1,1253.4 1976.2,1253.5 1981.3,1253.5 1986.3,1253.6 1991.4,1253.6 1996.4,1253.7 2001.4,1253.8 2006.4,1253.9 2011.4,1254.0 2016.3,1254.1 2021.2,1254.3 2026.1,1254.7 2030.8,1255.2 2035.6,1255.8 2040.4,1256.6 2045.1,1257.2 2050.0,1257.6 2054.9,1257.8 2059.9,1257.9 2064.9,1257.9 2070.0,1257.9 2075.0,1257.9 2080.1,1258.0 2085.1,1258.0 2090.1,1258.5 2091.1,1258.7 2081.6,1266.3 2080.6,1266.1 2075.6,1265.6 2070.6,1265.6 2065.5,1265.5 2060.5,1265.5 2055.4,1265.5 2050.4,1265.5 2045.4,1265.4 2040.5,1265.2 2035.6,1264.8 2030.9,1264.2 2026.1,1263.4 2021.3,1262.8 2016.6,1262.3 2011.7,1261.9 2006.8,1261.7 2001.9,1261.6 1996.9,1261.5 1991.9,1261.4 1986.9,1261.3 1981.9,1261.2 1976.8,1261.2 1971.8,1261.1 1966.7,1261.1 1961.6,1261.0 1956.5,1261.0 1951.4,1260.9 1946.4,1260.8 1941.3,1260.7 1936.3,1260.7 1931.3,1260.6 1926.3,1260.4 1921.3,1260.3 1916.3,1260.2 1911.3,1260.0 1906.3,1259.9 1901.3,1259.7 1896.3,1259.6 1891.3,1259.4 1886.3,1259.3 1881.3,1259.1 1876.3,1259.0 1871.3,1258.8 1866.3,1258.7 1861.3,1258.6 1856.3,1258.4 1851.3,1258.3 1846.3,1258.2 1841.3,1258.1 1836.3,1258.1 1831.3,1258.0 1826.3,1258.0 1821.3,1257.9 1816.3,1257.9 1811.3,1257.9 1806.3,1257.8 1801.3,1257.8 1796.3,1257.8 1791.3,1257.8 1786.3,1257.7 1781.3,1257.7 1776.3,1257.7 1771.3,1257.7 1766.3,1257.7 1761.3,1257.7 1756.3,1257.6 1751.3,1257.6 1746.3,1257.6 1741.3,1257.6 1736.3,1257.6 1731.3,1257.5 1726.3,1257.5 1721.3,1257.5 1716.3,1257.5 1711.3,1257.4 1706.3,1257.4 1701.3,1257.3 1696.3,1257.3 1691.3,1257.2 1686.3,1257.1 1681.3,1256.9 1676.3,1256.8 1671.3,1256.6 1666.3,1256.4 1661.3,1256.3 1656.3,1256.1 1651.3,1256.0 1646.3,1255.9 1641.3,1255.8 1636.3,1255.8 1631.3,1255.7 1626.3,1255.7 1621.3,1255.7 1616.3,1255.7 1611.3,1255.7 1606.3,1255.7 1601.3,1255.6 1596.3,1255.6 1591.3,1255.6 1586.3,1255.6 1581.3,1255.6 1576.3,1255.6 1571.3,1255.6 1566.3,1255.6 1561.3,1255.6 1556.3,1255.6 1551.3,1255.5 1546.3,1255.5 1541.3,1255.5 1536.3,1255.5 1531.3,1255.5 1526.3,1255.4 1521.3,1255.4 1516.3,1255.3 1511.3,1255.2 1506.3,1255.1 1501.3,1254.9 1496.3,1254.8 1491.3,1254.6 1486.3,1254.4 1481.3,1254.1 1476.4,1253.9 1471.4,1253.6 1466.4,1253.4 1461.4,1253.1 1456.4,1252.8 1451.4,1252.5 1446.4,1252.2 1441.4,1251.9 1436.4,1251.5 1431.4,1251.2 1426.4,1250.8 1421.5,1250.5 1416.5,1250.1 1411.5,1249.7 1406.5,1249.3 1401.5,1248.9 1396.5,1248.5 1391.6,1248.1 1386.6,1247.6 1381.6,1247.2 1376.6,1246.7 1371.6,1246.2 1366.7,1245.7 1361.7,1245.1 1356.7,1244.6 1351.8,1244.0 1346.8,1243.5 1341.8,1242.9 1336.9,1242.3 1331.9,1241.6 1327.0,1241.0 1322.0,1240.3 1317.0,1239.6 1312.1,1238.9 1307.1,1238.2 1302.2,1237.5 1297.3,1236.7 1292.3,1236.0 1287.4,1235.2 1282.4,1234.4 1277.5,1233.6 1272.6,1232.8 1267.6,1232.0 1262.7,1231.2 1257.8,1230.4 1252.8,1229.6 1247.9,1228.7 1243.0,1227.9 1238.0,1227.0 1233.1,1226.1 1228.2,1225.2 1223.3,1224.3 1218.4,1223.3 1213.5,1222.4 1208.6,1221.4 1203.7,1220.4 1198.8,1219.4 1193.9,1218.4 1189.0,1217.4 1184.1,1216.3 1179.2,1215.3 1174.3,1214.2 1169.4,1213.1 1164.6,1212.0 1159.7,1210.8 1154.8,1209.7 1150.0,1208.6 1145.1,1207.5 1140.2,1206.4 1135.3,1205.3 1130.4,1204.3 1125.6,1203.1 1120.7,1201.9 1115.9,1200.7 1111.1,1199.3 1106.3,1197.9 1101.5,1196.5 1096.7,1194.9 1092.0,1193.3 1087.3,1191.6 1082.7,1189.8 1078.0,1187.8 1073.5,1185.8 1069.0,1183.6 1064.6,1181.3 1060.3,1178.8 1056.1,1176.1 1052.1,1173.1 1048.2,1169.9 1044.6,1166.5 1041.3,1162.9 1038.2,1159.0 1035.3,1154.9 1032.7,1150.7 1030.3,1146.3 1028.2,1141.8 1026.2,1137.2 1024.3,1132.6 1022.5,1127.9 1020.9,1123.2 1019.3,1118.4 1017.9,1113.7 1016.6,1108.8 1015.4,1104.0 1014.3,1099.1 1013.3,1094.2 1012.3,1089.3 1011.4,1084.4 1010.5,1079.5 1009.7,1074.5 1008.8,1069.6 1008.0,1064.7 1007.2,1059.7 1006.4,1054.8 1005.7,1049.9 1004.9,1044.9 1004.2,1040.0 1003.5,1035.0 1002.8,1030.1 1002.1,1025.1 1001.5,1020.2 1000.8,1015.2 1000.2,1010.2 999.5,1005.3 998.9,1000.3 998.2,995.4 997.5,990.4 996.8,985.5 996.1,980.5 995.5,975.5 994.8,970.6 994.1,965.6 993.4,960.7 992.8,955.7 992.1,950.8 991.5,945.8 991.0,940.8 990.4,935.9 989.9,930.9 989.4,925.9 988.9,921.0 988.4,916.0 987.9,911.0 987.4,906.0 987.0,901.1 986.5,896.1 986.1,891.1 985.6,886.1 985.2,881.1 984.8,876.1 984.3,871.2 983.9,866.2 983.4,861.2 983.0,856.2 982.6,851.2 982.1,846.3 981.6,841.3 981.2,836.3 980.7,831.3 980.3,826.3 979.8,821.4 979.3,816.4 978.8,811.4 978.4,806.4 977.9,801.5 977.4,796.5 977.0,791.5 976.5,786.5 976.1,781.5 975.6,776.6 975.2,771.6 974.7,766.6 974.3,761.6 973.8,756.6 973.4,751.7 973.0,746.7 972.6,741.7 972.2,736.7 971.8,731.7 971.4,726.7 971.1,721.7 970.7,716.8 970.3,711.8 970.0,706.8 969.6,701.8 969.3,696.8 968.9,691.8 968.6,686.8 968.2,681.8 967.9,676.9 967.5,671.9 967.1,666.9 966.7,661.9 966.3,656.9 965.9,651.9 965.4,647.0 965.0,642.0 964.5,637.0 964.0,632.0 963.5,627.1 962.9,622.1 962.4,617.1 961.8,612.2 961.2,607.2 960.6,602.2 960.0,597.3 959.4,592.3 958.8,587.3 958.2,582.4 957.6,577.4 957.0,572.4 956.3,567.5 955.7,562.5 955.1,557.6 954.5,552.6 953.9,547.6 953.3,542.7 952.8,537.7 952.2,532.7 951.7,527.7 951.1,522.8 950.6,517.8 950.0,512.8 949.4,507.9 948.8,502.9 948.1,498.0 947.4,493.0 946.6,488.1 945.7,483.2 944.8,478.3 943.9,473.3 943.0,468.4 942.1,463.5 941.2,458.6 940.4,453.6 939.6,448.7 938.9,443.7 938.2,438.8 937.5,433.8 936.6,428.9 935.7,424.0 934.5,419.2 933.2,414.4 931.7,409.6 930.2,404.9 928.6,400.1 927.0,395.4 925.3,390.6 923.8,385.9 922.2,381.1 920.6,376.4 919.0,371.7 917.4,366.9 915.8,362.2 914.1,357.5 912.4,352.8 910.7,348.1 908.9,343.4 907.0,338.8 904.9,334.3 902.7,329.8 900.4,325.4 897.9,321.0 895.3,316.8 892.6,312.6 889.8,308.4 887.0,304.3 884.1,300.2 881.1,296.1 878.2,292.1 875.2,288.0 872.2,284.0 869.0,280.2 865.7,276.4 862.3,272.9 858.6,269.6 854.8,266.3 850.9,263.2 847.0,260.1 843.0,257.1 839.0,254.1 834.9,251.2 830.7,248.5 826.5,245.8 822.2,243.3 817.9,240.8 813.5,238.3 809.1,235.9 804.8,233.5 800.4,231.1 795.9,228.8 791.5,226.6 786.9,224.8 782.2,223.1 777.4,221.7 772.6,220.3 767.7,219.0 762.9,217.7 758.1,216.4 753.2,215.2 748.4,213.9 743.5,212.8 738.6,211.6 733.8,210.6 728.9,209.6 723.9,208.7 719.0,207.9 714.1,207.1 709.1,206.5 704.1,206.0 699.2,205.5 694.2,205.0 689.2,204.6 684.2,204.1 679.2,203.7 674.3,203.2 669.3,202.8 664.3,202.4 659.3,202.0 654.3,201.6 649.3,201.1 644.4,200.4 639.5,199.5 634.7,198.3 629.9,196.8 625.3,195.0 620.8,192.9 616.4,190.6 612.1,188.1 608.0,185.3 604.0,182.3 600.1,179.1 596.4,175.8 592.6,172.4 589.0,168.9 585.4,165.4 581.9,161.9 578.5,158.2 575.0,154.6 571.6,150.9 568.2,147.3 564.8,143.6 561.3,139.9 557.9,136.3 554.4,132.7 550.9,129.1 547.3,125.6 543.6,122.3 539.8,119.1 535.8,116.2 531.7,113.3 527.5,110.7 523.1,108.2 518.7,105.9 514.2,103.8 509.6,101.8 505.0,99.9 500.3,98.2 495.5,96.7 490.7,95.3 485.9,94.0 481.0,92.9 476.1,91.9 471.2,91.0 466.3,90.2 461.3,89.4 456.4,88.8 451.4,88.2 446.4,87.6 441.5,87.0 436.5,86.5 431.5,86.0 426.5,85.6 421.5,85.3 416.5,85.0 411.6,84.7 406.7,84.2 401.8,83.7 397.0,83.0 392.1,82.6 387.1,82.3 382.2,82.0 377.3,81.0 373.2,78.4 369.2,75.3 365.1,72.5 361.0,69.6 356.9,66.7 352.9,63.7 348.8,60.8 344.6,58.0 340.2,55.7 335.5,53.9 330.9,52.1 326.8,49.3Z"/><path d="M327.7,50.2 335.3,40.8 339.4,43.6 344.1,45.4 348.7,47.2 353.2,49.5 357.4,52.2 361.4,55.2 365.5,58.1 369.5,61.1 373.6,63.9 377.7,66.7 381.7,69.9 385.9,72.5 390.7,73.5 395.7,73.7 400.7,74.1 405.6,74.5 410.4,75.1 415.2,75.7 420.1,76.1 425.1,76.4 430.1,76.7 435.1,77.0 440.1,77.4 445.0,77.9 450.0,78.5 455.0,79.1 460.0,79.6 464.9,80.2 469.9,80.9 474.8,81.6 479.8,82.4 484.7,83.3 489.6,84.3 494.4,85.5 499.3,86.7 504.1,88.1 508.8,89.7 513.5,91.4 518.2,93.2 522.8,95.2 527.3,97.3 531.7,99.6 536.0,102.1 540.3,104.8 544.4,107.6 548.3,110.6 552.2,113.8 555.9,117.1 559.5,120.5 563.0,124.1 566.4,127.7 569.9,131.4 573.3,135.0 576.8,138.7 580.2,142.4 583.6,146.0 587.0,149.7 590.5,153.3 594.0,156.9 597.5,160.4 601.2,163.8 604.9,167.2 608.7,170.5 612.6,173.7 616.6,176.7 620.7,179.5 624.9,182.1 629.3,184.4 633.8,186.5 638.5,188.3 643.2,189.8 648.1,191.0 652.9,191.9 657.9,192.5 662.8,193.0 667.8,193.4 672.8,193.8 677.8,194.3 682.8,194.7 687.8,195.1 692.8,195.6 697.8,196.0 702.7,196.5 707.7,197.0 712.7,197.5 717.7,198.0 722.6,198.6 727.6,199.3 732.5,200.1 737.4,201.0 742.3,202.0 747.2,203.1 752.1,204.2 756.9,205.4 761.8,206.6 766.6,207.9 771.5,209.1 776.3,210.4 781.1,211.8 786.0,213.1 790.7,214.6 795.4,216.2 800.0,218.1 804.5,220.2 808.9,222.5 813.3,224.9 817.7,227.3 822.1,229.8 826.4,232.2 830.8,234.7 835.1,237.3 839.3,239.9 843.4,242.7 847.5,245.6 851.5,248.5 855.5,251.5 859.5,254.6 863.4,257.8 867.1,261.0 870.8,264.4 874.3,267.9 877.6,271.6 880.7,275.5 883.8,279.5 886.7,283.5 889.7,287.6 892.6,291.7 895.5,295.8 898.4,299.9 901.1,304.0 903.8,308.2 906.4,312.5 908.9,316.8 911.3,321.2 913.5,325.7 915.5,330.3 917.4,334.9 919.2,339.5 921.0,344.2 922.7,348.9 924.3,353.6 925.9,358.4 927.6,363.1 929.1,367.8 930.7,372.6 932.3,377.3 933.9,382.1 935.5,386.8 937.1,391.6 938.7,396.3 940.3,401.1 941.8,405.8 943.1,410.7 944.2,415.5 945.2,420.4 946.0,425.3 946.7,430.2 947.5,435.2 948.2,440.1 948.9,445.1 949.7,450.0 950.6,455.0 951.5,459.9 952.4,464.8 953.4,469.7 954.3,474.6 955.1,479.5 955.9,484.5 956.6,489.4 957.3,494.4 958.0,499.3 958.5,504.3 959.1,509.3 959.7,514.2 960.2,519.2 960.8,524.2 961.3,529.1 961.9,534.1 962.5,539.1 963.1,544.0 963.7,549.0 964.3,554.0 964.9,558.9 965.5,563.9 966.1,568.9 966.7,573.8 967.4,578.8 968.0,583.8 968.6,588.7 969.2,593.7 969.8,598.6 970.4,603.6 970.9,608.6 971.5,613.5 972.0,618.5 972.5,623.5 973.0,628.5 973.5,633.4 974.0,638.4 974.4,643.4 974.9,648.4 975.3,653.3 975.7,658.3 976.0,663.3 976.4,668.3 976.8,673.3 977.1,678.3 977.5,683.3 977.8,688.3 978.2,693.2 978.5,698.2 978.9,703.2 979.3,708.2 979.6,713.2 980.0,718.2 980.4,723.2 980.7,728.2 981.1,733.1 981.6,738.1 982.0,743.1 982.4,748.1 982.8,753.1 983.3,758.0 983.7,763.0 984.2,768.0 984.6,773.0 985.1,778.0 985.5,782.9 986.0,787.9 986.5,792.9 986.9,797.9 987.4,802.9 987.9,807.8 988.3,812.8 988.8,817.8 989.3,822.8 989.7,827.8 990.2,832.7 990.7,837.7 991.1,842.7 991.6,847.7 992.0,852.6 992.4,857.6 992.9,862.6 993.3,867.6 993.8,872.6 994.2,877.6 994.6,882.5 995.1,887.5 995.5,892.5 996.0,897.5 996.5,902.5 996.9,907.4 997.4,912.4 997.9,917.4 998.4,922.4 999.0,927.3 999.5,932.3 1000.1,937.3 1000.7,942.2 1001.3,947.2 1002.0,952.1 1002.6,957.1 1003.3,962.0 1004.0,967.0 1004.7,972.0 1005.4,976.9 1006.1,981.9 1006.7,986.8 1007.4,991.8 1008.1,996.7 1008.7,1001.7 1009.4,1006.6 1010.0,1011.6 1010.7,1016.6 1011.4,1021.5 1012.1,1026.5 1012.8,1031.4 1013.5,1036.4 1014.2,1041.3 1015.0,1046.2 1015.8,1051.2 1016.6,1056.1 1017.4,1061.1 1018.2,1066.0 1019.1,1070.9 1020.0,1075.8 1020.9,1080.7 1021.9,1085.7 1022.9,1090.5 1024.0,1095.4 1025.1,1100.3 1026.4,1105.1 1027.9,1109.9 1029.4,1114.6 1031.1,1119.4 1032.8,1124.0 1034.7,1128.7 1036.7,1133.2 1038.9,1137.7 1041.3,1142.1 1043.9,1146.3 1046.7,1150.4 1049.8,1154.3 1053.2,1158.0 1056.8,1161.4 1060.6,1164.6 1064.6,1167.5 1068.8,1170.2 1073.1,1172.7 1077.5,1175.1 1082.0,1177.2 1086.6,1179.3 1091.2,1181.2 1095.9,1183.0 1100.5,1184.8 1105.3,1186.4 1110.0,1187.9 1114.8,1189.4 1119.6,1190.8 1124.4,1192.1 1129.3,1193.4 1134.1,1194.6 1139.0,1195.7 1143.9,1196.8 1148.7,1197.9 1153.6,1199.0 1158.5,1200.0 1163.4,1201.2 1168.3,1202.3 1173.1,1203.4 1178.0,1204.5 1182.9,1205.6 1187.8,1206.7 1192.6,1207.8 1197.5,1208.8 1202.4,1209.9 1207.3,1210.9 1212.2,1211.9 1217.1,1212.8 1222.0,1213.8 1226.9,1214.8 1231.8,1215.7 1236.8,1216.6 1241.7,1217.5 1246.6,1218.4 1251.5,1219.3 1256.4,1220.2 1261.4,1221.0 1266.3,1221.8 1271.2,1222.6 1276.2,1223.4 1281.1,1224.2 1286.0,1225.0 1291.0,1225.8 1295.9,1226.6 1300.9,1227.4 1305.8,1228.2 1310.7,1228.9 1315.7,1229.6 1320.6,1230.4 1325.6,1231.1 1330.5,1231.8 1335.5,1232.4 1340.5,1233.1 1345.4,1233.7 1350.4,1234.3 1355.3,1234.9 1360.3,1235.5 1365.3,1236.0 1370.2,1236.6 1375.2,1237.1 1380.2,1237.6 1385.2,1238.1 1390.1,1238.6 1395.1,1239.1 1400.1,1239.5 1405.1,1240.0 1410.1,1240.4 1415.1,1240.8 1420.0,1241.2 1425.0,1241.6 1430.0,1241.9 1435.0,1242.3 1440.0,1242.6 1445.0,1243.0 1450.0,1243.3 1455.0,1243.6 1459.9,1243.9 1464.9,1244.2 1469.9,1244.5 1474.9,1244.8 1479.9,1245.1 1484.9,1245.3 1489.9,1245.6 1494.9,1245.8 1499.9,1246.0 1504.9,1246.2 1509.9,1246.4 1514.9,1246.5 1519.9,1246.6 1524.9,1246.7 1529.9,1246.8 1534.9,1246.9 1539.9,1246.9 1544.9,1246.9 1549.9,1247.0 1554.9,1247.0 1559.9,1247.0 1564.9,1247.0 1569.9,1247.0 1574.9,1247.0 1579.9,1247.0 1584.9,1247.0 1589.9,1247.1 1594.9,1247.1 1599.9,1247.1 1604.9,1247.1 1609.9,1247.1 1614.9,1247.1 1619.9,1247.1 1624.9,1247.1 1629.9,1247.2 1634.9,1247.2 1639.9,1247.2 1644.9,1247.2 1649.9,1247.3 1654.9,1247.4 1659.9,1247.5 1664.9,1247.6 1669.9,1247.7 1674.9,1247.9 1679.9,1248.1 1684.9,1248.2 1689.9,1248.4 1694.9,1248.5 1699.9,1248.6 1704.9,1248.7 1709.9,1248.8 1714.9,1248.8 1719.9,1248.9 1724.9,1248.9 1729.9,1248.9 1734.9,1249.0 1739.9,1249.0 1744.9,1249.0 1749.9,1249.0 1754.9,1249.1 1759.9,1249.1 1764.9,1249.1 1769.9,1249.1 1774.9,1249.1 1779.9,1249.1 1784.9,1249.2 1789.9,1249.2 1794.9,1249.2 1799.9,1249.2 1804.9,1249.2 1809.9,1249.3 1814.9,1249.3 1819.9,1249.3 1824.9,1249.3 1829.9,1249.4 1834.9,1249.4 1839.9,1249.5 1844.9,1249.5 1849.9,1249.6 1854.8,1249.7 1859.8,1249.8 1864.8,1249.9 1869.8,1250.0 1874.8,1250.1 1879.8,1250.3 1884.8,1250.4 1889.8,1250.6 1894.8,1250.7 1899.8,1250.9 1904.8,1251.0 1909.8,1251.2 1914.8,1251.3 1919.8,1251.5 1924.8,1251.6 1929.8,1251.8 1934.8,1251.9 1939.8,1252.0 1944.9,1252.1 1949.9,1252.2 1954.9,1252.3 1960.0,1252.3 1965.1,1252.4 1970.1,1252.5 1975.2,1252.5 1980.3,1252.6 1985.4,1252.6 1990.4,1252.7 1995.5,1252.7 2000.5,1252.8 2005.5,1252.9 2010.5,1253.0 2015.4,1253.2 2020.3,1253.4 2025.1,1253.7 2029.9,1254.2 2034.7,1254.9 2039.4,1255.6 2044.2,1256.2 2049.1,1256.6 2054.0,1256.8 2059.0,1256.9 2064.0,1257.0 2069.0,1257.0 2074.1,1257.0 2079.1,1257.0 2084.2,1257.1 2089.2,1257.6 2090.1,1257.7 2082.5,1267.2 2081.6,1267.1 2076.6,1266.6 2071.5,1266.5 2066.5,1266.5 2061.4,1266.5 2056.4,1266.5 2051.4,1266.4 2046.4,1266.3 2041.5,1266.1 2036.6,1265.7 2031.8,1265.1 2027.1,1264.4 2022.3,1263.7 2017.5,1263.2 2012.7,1262.9 2007.8,1262.7 2002.9,1262.5 1997.9,1262.4 1992.9,1262.3 1987.9,1262.2 1982.8,1262.2 1977.8,1262.1 1972.7,1262.1 1967.6,1262.0 1962.5,1262.0 1957.5,1261.9 1952.4,1261.8 1947.3,1261.8 1942.3,1261.7 1937.3,1261.6 1932.2,1261.5 1927.2,1261.4 1922.2,1261.3 1917.2,1261.1 1912.2,1261.0 1907.2,1260.8 1902.2,1260.7 1897.2,1260.5 1892.2,1260.4 1887.2,1260.2 1882.2,1260.1 1877.2,1259.9 1872.2,1259.8 1867.2,1259.6 1862.2,1259.5 1857.2,1259.4 1852.2,1259.3 1847.2,1259.2 1842.3,1259.1 1837.3,1259.0 1832.3,1259.0 1827.3,1258.9 1822.3,1258.9 1817.3,1258.8 1812.3,1258.8 1807.3,1258.8 1802.3,1258.8 1797.3,1258.7 1792.3,1258.7 1787.3,1258.7 1782.3,1258.7 1777.3,1258.7 1772.3,1258.6 1767.3,1258.6 1762.3,1258.6 1757.3,1258.6 1752.3,1258.6 1747.3,1258.6 1742.3,1258.5 1737.3,1258.5 1732.3,1258.5 1727.3,1258.5 1722.3,1258.4 1717.3,1258.4 1712.3,1258.4 1707.3,1258.3 1702.3,1258.3 1697.3,1258.2 1692.3,1258.1 1687.3,1258.0 1682.3,1257.9 1677.3,1257.7 1672.3,1257.6 1667.3,1257.4 1662.3,1257.2 1657.3,1257.1 1652.3,1257.0 1647.3,1256.9 1642.3,1256.8 1637.3,1256.7 1632.3,1256.7 1627.3,1256.7 1622.3,1256.7 1617.3,1256.6 1612.3,1256.6 1607.3,1256.6 1602.3,1256.6 1597.3,1256.6 1592.3,1256.6 1587.3,1256.6 1582.3,1256.6 1577.3,1256.5 1572.3,1256.5 1567.3,1256.5 1562.3,1256.5 1557.3,1256.5 1552.3,1256.5 1547.3,1256.5 1542.3,1256.5 1537.3,1256.4 1532.3,1256.4 1527.3,1256.4 1522.3,1256.3 1517.3,1256.2 1512.3,1256.1 1507.3,1256.0 1502.3,1255.9 1497.3,1255.7 1492.3,1255.5 1487.3,1255.3 1482.3,1255.1 1477.3,1254.8 1472.3,1254.6 1467.3,1254.3 1462.3,1254.0 1457.3,1253.7 1452.3,1253.4 1447.4,1253.1 1442.4,1252.8 1437.4,1252.5 1432.4,1252.1 1427.4,1251.8 1422.4,1251.4 1417.4,1251.1 1412.4,1250.7 1407.5,1250.3 1402.5,1249.9 1397.5,1249.5 1392.5,1249.0 1387.5,1248.6 1382.5,1248.1 1377.6,1247.6 1372.6,1247.1 1367.6,1246.6 1362.6,1246.1 1357.7,1245.5 1352.7,1245.0 1347.7,1244.4 1342.8,1243.8 1337.8,1243.2 1332.9,1242.6 1327.9,1241.9 1322.9,1241.3 1318.0,1240.6 1313.0,1239.9 1308.1,1239.1 1303.1,1238.4 1298.2,1237.7 1293.3,1236.9 1288.3,1236.1 1283.4,1235.3 1278.4,1234.5 1273.5,1233.7 1268.6,1232.9 1263.6,1232.1 1258.7,1231.3 1253.8,1230.5 1248.8,1229.7 1243.9,1228.8 1239.0,1227.9 1234.1,1227.0 1229.2,1226.1 1224.2,1225.2 1219.3,1224.3 1214.4,1223.3 1209.5,1222.3 1204.6,1221.4 1199.7,1220.4 1194.8,1219.4 1189.9,1218.3 1185.0,1217.3 1180.2,1216.2 1175.3,1215.1 1170.4,1214.0 1165.5,1212.9 1160.7,1211.8 1155.8,1210.7 1150.9,1209.5 1146.0,1208.5 1141.1,1207.4 1136.3,1206.3 1131.4,1205.2 1126.5,1204.1 1121.7,1202.9 1116.8,1201.6 1112.0,1200.3 1107.2,1198.9 1102.4,1197.4 1097.7,1195.9 1092.9,1194.3 1088.3,1192.5 1083.6,1190.7 1079.0,1188.8 1074.4,1186.7 1069.9,1184.6 1065.5,1182.2 1061.2,1179.7 1057.0,1177.0 1053.0,1174.1 1049.2,1170.9 1045.6,1167.5 1042.2,1163.8 1039.1,1159.9 1036.3,1155.8 1033.7,1151.6 1031.3,1147.2 1029.1,1142.7 1027.1,1138.2 1025.2,1133.5 1023.5,1128.9 1021.8,1124.1 1020.3,1119.4 1018.8,1114.6 1017.5,1109.8 1016.4,1104.9 1015.3,1100.0 1014.3,1095.2 1013.3,1090.2 1012.4,1085.3 1011.5,1080.4 1010.6,1075.5 1009.8,1070.6 1009.0,1065.6 1008.2,1060.7 1007.4,1055.7 1006.6,1050.8 1005.9,1045.9 1005.2,1040.9 1004.5,1036.0 1003.8,1031.0 1003.1,1026.1 1002.4,1021.1 1001.8,1016.1 1001.1,1011.2 1000.5,1006.2 999.8,1001.3 999.1,996.3 998.5,991.4 997.8,986.4 997.1,981.5 996.4,976.5 995.7,971.5 995.0,966.6 994.4,961.6 993.7,956.7 993.1,951.7 992.5,946.8 991.9,941.8 991.4,936.8 990.8,931.9 990.3,926.9 989.8,921.9 989.3,916.9 988.9,912.0 988.4,907.0 987.9,902.0 987.5,897.0 987.0,892.0 986.6,887.1 986.2,882.1 985.7,877.1 985.3,872.1 984.8,867.1 984.4,862.1 984.0,857.2 983.5,852.2 983.1,847.2 982.6,842.2 982.1,837.3 981.7,832.3 981.2,827.3 980.7,822.3 980.3,817.3 979.8,812.4 979.3,807.4 978.9,802.4 978.4,797.4 977.9,792.4 977.5,787.5 977.0,782.5 976.6,777.5 976.1,772.5 975.7,767.5 975.2,762.6 974.8,757.6 974.4,752.6 974.0,747.6 973.5,742.6 973.1,737.7 972.8,732.7 972.4,727.7 972.0,722.7 971.7,717.7 971.3,712.7 970.9,707.7 970.6,702.7 970.2,697.8 969.9,692.8 969.5,687.8 969.2,682.8 968.8,677.8 968.4,672.8 968.1,667.8 967.7,662.8 967.3,657.9 966.8,652.9 966.4,647.9 965.9,642.9 965.4,638.0 964.9,633.0 964.4,628.0 963.9,623.0 963.3,618.1 962.8,613.1 962.2,608.1 961.6,603.2 961.0,598.2 960.4,593.3 959.8,588.3 959.1,583.3 958.5,578.4 957.9,573.4 957.3,568.4 956.7,563.5 956.1,558.5 955.5,553.5 954.9,548.6 954.3,543.6 953.7,538.6 953.2,533.7 952.6,528.7 952.1,523.7 951.5,518.8 950.9,513.8 950.4,508.8 949.7,503.9 949.0,498.9 948.3,494.0 947.5,489.0 946.7,484.1 945.8,479.2 944.8,474.3 943.9,469.4 943.0,464.5 942.1,459.5 941.3,454.6 940.6,449.6 939.9,444.7 939.1,439.7 938.4,434.8 937.6,429.9 936.6,425.0 935.5,420.2 934.2,415.3 932.7,410.6 931.1,405.8 929.5,401.1 927.9,396.3 926.3,391.6 924.7,386.8 923.1,382.1 921.5,377.3 920.0,372.6 918.3,367.9 916.7,363.1 915.1,358.4 913.4,353.7 911.6,349.0 909.8,344.4 907.9,339.8 905.9,335.2 903.7,330.7 901.3,326.3 898.8,322.0 896.2,317.7 893.5,313.5 890.8,309.4 887.9,305.3 885.0,301.2 882.1,297.1 879.1,293.0 876.2,289.0 873.1,285.0 870.0,281.1 866.7,277.4 863.2,273.9 859.5,270.5 855.8,267.3 851.9,264.1 847.9,261.0 843.9,258.0 839.9,255.1 835.8,252.2 831.7,249.4 827.5,246.8 823.2,244.2 818.8,241.7 814.5,239.3 810.1,236.8 805.7,234.4 801.3,232.0 796.9,229.7 792.4,227.6 787.8,225.7 783.1,224.1 778.4,222.6 773.5,221.3 768.7,219.9 763.9,218.6 759.0,217.4 754.2,216.1 749.3,214.9 744.5,213.7 739.6,212.6 734.7,211.5 729.8,210.5 724.9,209.6 720.0,208.8 715.0,208.1 710.1,207.5 705.1,207.0 700.1,206.5 695.1,206.0 690.2,205.5 685.2,205.1 680.2,204.6 675.2,204.2 670.2,203.8 665.2,203.3 660.2,202.9 655.2,202.5 650.3,202.0 645.3,201.4 640.5,200.5 635.6,199.3 630.9,197.8 626.2,196.0 621.7,193.9 617.3,191.6 613.1,189.0 609.0,186.2 605.0,183.2 601.1,180.0 597.3,176.7 593.6,173.3 589.9,169.9 586.4,166.4 582.9,162.8 579.4,159.2 576.0,155.5 572.6,151.9 569.2,148.2 565.7,144.5 562.3,140.9 558.8,137.2 555.4,133.6 551.9,130.0 548.3,126.6 544.6,123.3 540.7,120.1 536.8,117.1 532.7,114.3 528.4,111.6 524.1,109.1 519.7,106.8 515.2,104.7 510.6,102.7 505.9,100.9 501.2,99.2 496.5,97.6 491.7,96.2 486.8,95.0 482.0,93.8 477.1,92.8 472.2,91.9 467.2,91.1 462.3,90.4 457.3,89.7 452.4,89.1 447.4,88.6 442.4,88.0 437.4,87.4 432.5,86.9 427.5,86.5 422.5,86.2 417.5,85.9 412.5,85.6 407.6,85.2 402.8,84.6 398.0,84.0 393.1,83.6 388.1,83.2 383.1,83.0 378.3,82.0 374.1,79.4 370.1,76.2 366.0,73.4 361.9,70.6 357.9,67.6 353.8,64.7 349.8,61.7 345.6,59.0 341.1,56.7 336.5,54.9 331.8,53.1 327.7,50.2Z"/><path d="M326.8,41.7 327.7,40.8 335.3,40.8 336.2,41.7 336.2,49.3 335.3,50.2 327.7,50.2 326.8,49.3Z"/><path d="M2081.6,1258.7 2082.5,1257.7 2090.1,1257.7 2091.1,1258.7 2091.1,1266.3 2090.1,1267.2 2082.5,1267.2 2081.6,1266.3Z"/></g>
</g>
<g fill="#000">
<rect x="244.5" y="50.0" width="9.4" height="1285.5"/>
<rect x="244.5" y="1326.1" width="1845.5" height="9.4"/>
<rect x="227.8" y="45.3" width="21.4" height="9.4"/>
<rect x="227.8" y="173.4" width="21.4" height="9.4"/>
<rect x="227.8" y="301.5" width="21.4" height="9.4"/>
<rect x="227.8" y="429.5" width="21.4" height="9.4"/>
<rect x="227.8" y="557.6" width="21.4" height="9.4"/>
<rect x="227.8" y="685.7" width="21.4" height="9.4"/>
<rect x="227.8" y="813.8" width="21.4" height="9.4"/>
<rect x="227.8" y="941.9" width="21.4" height="9.4"/>
<rect x="227.8" y="1069.9" width="21.4" height="9.4"/>
<rect x="227.8" y="1198.0" width="21.4" height="9.4"/>
<rect x="227.8" y="1326.1" width="21.4" height="9.4"/>
<rect x="244.5" y="1330.8" width="9.4" height="21.8"/>
<rect x="450.1" y="1330.8" width="9.4" height="21.8"/>
<rect x="655.7" y="1330.8" width="9.4" height="21.8"/>
<rect x="859.3" y="1330.8" width="9.4" height="21.8"/>
<rect x="1064.7" y="1330.8" width="9.4" height="21.8"/>
<rect x="1267.5" y="1330.8" width="9.4" height="21.8"/>
<rect x="1473.3" y="1330.8" width="9.4" height="21.8"/>
<rect x="1676.5" y="1330.8" width="9.4" height="21.8"/>
<rect x="1882.1" y="1330.8" width="9.4" height="21.8"/>
<rect x="2085.3" y="1330.8" width="9.4" height="21.8"/>
</g>
<g font-family="'Liberation Serif',serif" font-weight="bold" font-size="76.5" fill="#000" letter-spacing="1.30">
<text transform="translate(185.8,75.4) scale(1,0.974)" text-anchor="end">100</text>
<text transform="translate(185.8,203.3) scale(1,0.974)" text-anchor="end">90</text>
<text transform="translate(185.8,331.2) scale(1,0.974)" text-anchor="end">80</text>
<text transform="translate(185.8,459.1) scale(1,0.974)" text-anchor="end">70</text>
<text transform="translate(185.8,587.0) scale(1,0.974)" text-anchor="end">60</text>
<text transform="translate(185.8,714.9) scale(1,0.974)" text-anchor="end">50</text>
<text transform="translate(185.8,842.8) scale(1,0.974)" text-anchor="end">40</text>
<text transform="translate(185.8,970.7) scale(1,0.974)" text-anchor="end">30</text>
<text transform="translate(185.8,1098.6) scale(1,0.974)" text-anchor="end">20</text>
<text transform="translate(185.8,1226.5) scale(1,0.974)" text-anchor="end">10</text>
<text transform="translate(185.8,1354.4) scale(1,0.974)" text-anchor="end">0</text>
<text transform="translate(249.8,1446.0) scale(1,0.974)" text-anchor="middle">0</text>
<text transform="translate(455.4,1446.0) scale(1,0.974)" text-anchor="middle">100</text>
<text transform="translate(661.0,1446.0) scale(1,0.974)" text-anchor="middle">200</text>
<text transform="translate(864.6,1446.0) scale(1,0.974)" text-anchor="middle">300</text>
<text transform="translate(1070.1,1446.0) scale(1,0.974)" text-anchor="middle">400</text>
<text transform="translate(1272.9,1446.0) scale(1,0.974)" text-anchor="middle">500</text>
<text transform="translate(1478.7,1446.0) scale(1,0.974)" text-anchor="middle">600</text>
<text transform="translate(1681.9,1446.0) scale(1,0.974)" text-anchor="middle">700</text>
<text transform="translate(1887.5,1446.0) scale(1,0.974)" text-anchor="middle">800</text>
<text transform="translate(2093.0,1446.0) scale(1,0.974)" text-anchor="middle">900</text>
</g>
<g font-family="'Liberation Sans',sans-serif" font-weight="bold" fill="#000" stroke="#fff" stroke-width="1.2" stroke-linejoin="miter">
<text x="958.5" y="1556.8" font-size="85" textLength="655" lengthAdjust="spacingAndGlyphs">Temperature (°C)</text>
<text transform="translate(78.3,886.6) rotate(-90)" font-size="70.2" stroke-width="0.4" textLength="533" lengthAdjust="spacingAndGlyphs">Wt.% Remaining</text>
<text x="2110.5" y="1132.2" font-size="86" fill="#00b050" textLength="48" lengthAdjust="spacingAndGlyphs">b</text>
<text x="2120.8" y="1275" font-size="80.5" fill="#c00000" textLength="38.5" lengthAdjust="spacingAndGlyphs">c</text>
<text x="2122.6" y="1334.2" font-size="80.5" fill="#000" textLength="41.5" lengthAdjust="spacingAndGlyphs">a</text>
</g>
</svg>
</body></html>
